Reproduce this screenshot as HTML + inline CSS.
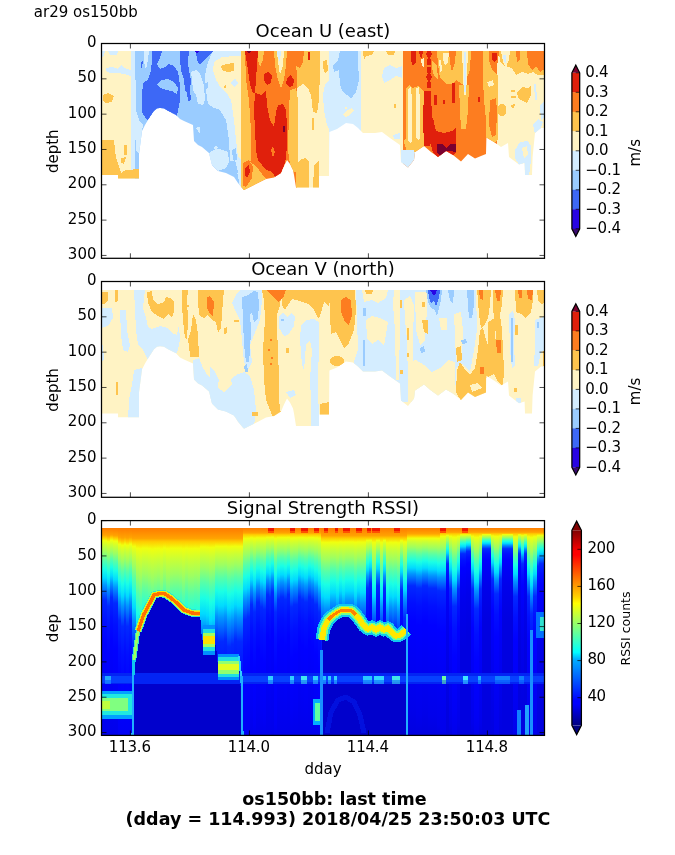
<!DOCTYPE html><html><head><meta charset="utf-8"><title>os150bb last time</title><style>html,body{margin:0;padding:0;background:#fff}svg{display:block;will-change:transform;opacity:0.999}</style></head><body><svg width="675" height="855" viewBox="0 0 675 855" font-family='"DejaVu Sans","Liberation Sans",sans-serif' fill="#000">
<rect width="675" height="855" fill="#fff"/>
<clipPath id="m1"><polygon points="101.5,51.0 101.5,175.0 118.0,175.0 118.0,178.6 139.0,178.6 139.0,154.0 142.0,131.0 145.0,125.0 148.0,120.0 154.0,111.0 157.0,108.5 160.0,108.0 164.0,108.5 168.0,111.0 176.0,115.0 180.0,119.0 184.0,121.0 193.0,125.0 194.0,141.0 198.0,145.0 202.0,147.0 209.0,153.0 212.0,165.0 218.0,171.0 226.0,173.0 234.0,177.0 238.0,183.0 243.0,189.0 244.0,190.0 250.0,187.0 258.0,183.0 266.0,179.0 274.0,177.5 281.0,173.0 284.0,166.0 287.0,160.0 290.0,164.0 293.0,170.0 294.0,175.0 296.0,187.4 319.0,187.4 319.0,176.0 329.0,176.0 329.4,132.0 337.0,129.0 346.0,123.0 353.0,124.0 358.0,128.0 363.0,133.0 375.0,133.0 382.0,132.0 390.0,138.0 400.0,145.0 401.0,162.0 408.0,167.4 414.0,160.0 415.0,152.0 424.0,146.0 431.0,152.0 438.0,157.0 446.0,151.0 453.0,155.0 461.0,161.4 468.0,154.0 475.0,158.6 481.0,156.0 486.0,154.0 486.4,137.4 494.0,142.0 501.0,147.0 508.0,143.0 509.0,157.0 519.0,164.6 524.6,163.0 525.0,175.0 532.0,175.0 532.6,157.0 535.0,133.0 541.0,128.0 544.5,128.0 544.5,51.0"/></clipPath>
<g clip-path="url(#m1)" shape-rendering="crispEdges">
<rect x="101" y="50" width="30" height="145" fill="#fff3c4"/>
<rect x="131" y="50" width="4" height="145" fill="#d4edff"/>
<rect x="135" y="50" width="108" height="145" fill="#9accff"/>
<rect x="241" y="50" width="56" height="145" fill="#fd7d20"/>
<rect x="297" y="50" width="32" height="145" fill="#fff3c4"/>
<rect x="329" y="50" width="32" height="145" fill="#d4edff"/>
<rect x="361" y="50" width="42" height="145" fill="#fff3c4"/>
<rect x="403" y="50" width="94" height="145" fill="#fd7d20"/>
<rect x="497" y="50" width="49" height="145" fill="#fff3c4"/>
<polygon fill="#fec44e" points="101.0,140.0 114.0,140.0 115.0,150.0 116.0,158.0 119.0,166.0 121.0,173.0 126.0,170.0 139.0,169.0 139.0,181.0 101.0,181.0"/>
<polygon fill="#fff3c4" points="117.0,150.0 120.0,146.0 122.0,152.0 121.0,160.0 118.0,158.0"/>
<polygon fill="#fec44e" points="103.0,95.0 108.0,93.0 114.0,96.0 112.0,102.0 106.0,103.0 103.0,101.0"/>
<polygon fill="#fec44e" points="124.0,145.0 127.0,145.0 127.0,155.0 124.0,155.0"/>
<polygon fill="#fec44e" points="121.0,158.0 126.0,157.0 124.0,164.0 121.0,163.0"/>
<polygon fill="#d4edff" points="106.0,68.0 112.0,67.0 118.0,69.0 121.0,65.0 124.0,68.0 131.0,70.0 131.0,76.0 124.0,74.0 118.0,73.0 110.0,73.0 106.0,71.0"/>
<polygon fill="#d4edff" points="108.0,51.0 118.0,51.0 117.0,55.0 110.0,55.0"/>
<polygon fill="#d4edff" points="101.0,51.0 105.0,51.0 104.0,56.0 101.0,57.0"/>
<polygon fill="#d4edff" points="131.0,51.0 135.0,51.0 135.5,80.0 136.0,110.0 139.0,120.0 143.0,125.0 142.0,131.0 141.0,150.0 139.0,154.0 136.0,150.0 134.5,120.0 133.0,90.0 131.0,60.0"/>
<polygon fill="#d4edff" points="144.0,51.0 149.0,51.0 148.0,60.0 146.0,70.0 144.0,62.0"/>
<polygon fill="#d4edff" points="213.0,51.0 243.0,51.0 243.0,192.0 240.0,192.0 238.0,175.0 230.0,160.0 229.0,140.0 226.0,120.0 220.0,110.0 214.0,108.0 208.0,104.0 206.0,90.0 205.0,75.0 208.0,62.0"/>
<polygon fill="#d4edff" points="209.0,153.0 214.0,150.0 222.0,148.0 228.0,150.0 229.0,160.0 226.0,168.0 218.0,171.0 212.0,165.0"/>
<polygon fill="#d4edff" points="196.0,128.0 201.0,126.0 204.0,131.0 200.0,134.0"/>
<polygon fill="#d4edff" points="212.0,146.0 216.0,143.0 219.0,147.0 215.0,150.0"/>
<polygon fill="#3d68f6" points="152.0,51.0 162.0,51.0 160.0,58.0 157.0,64.0 160.0,69.0 165.0,67.0 169.0,64.0 174.0,66.0 178.0,72.0 180.0,85.0 180.0,100.0 177.0,116.0 168.0,111.0 160.0,108.0 154.0,111.0 148.0,120.0 146.0,119.0 142.0,112.0 142.0,95.0 143.0,83.0 148.0,80.0 151.0,70.0 152.0,60.0"/>
<polygon fill="#9accff" points="157.0,84.0 162.0,80.0 168.0,79.0 174.0,82.0 178.0,88.0 177.0,94.0 172.0,91.0 166.0,90.0 160.0,88.0"/>
<polygon fill="#3d68f6" points="180.0,51.0 189.0,51.0 188.0,62.0 189.0,71.0 191.0,80.0 190.0,90.0 191.0,100.0 188.0,101.0 187.0,93.0 185.0,90.0 184.0,80.0 181.0,70.0 180.0,60.0"/>
<polygon fill="#3d68f6" points="196.0,51.0 213.0,51.0 209.0,56.0 204.0,60.0 200.0,65.0 197.0,60.0"/>
<polygon fill="#2804e4" points="194.0,51.0 199.0,51.0 197.0,53.0"/>
<polygon fill="#3d68f6" points="141.0,62.0 143.0,61.0 142.0,67.0 141.0,68.0"/>
<polygon fill="#d4edff" points="191.0,72.0 196.0,70.0 200.0,73.0 204.0,85.0 205.0,100.0 203.0,105.0 198.0,104.0 196.0,95.0 193.0,90.0 192.0,80.0"/>
<polygon fill="#9accff" points="204.0,84.0 208.0,82.0 208.0,88.0 205.0,90.0"/>
<polygon fill="#fff3c4" points="214.0,62.0 222.0,57.0 235.0,56.0 243.0,56.0 243.0,160.0 238.0,157.0 236.0,140.0 234.0,120.0 231.0,100.0 226.0,92.0 221.0,88.0 216.0,80.0 213.0,70.0"/>
<polygon fill="#fec44e" points="221.0,66.0 226.0,64.0 234.0,63.0 234.0,71.0 227.0,72.0 222.0,70.0"/>
<polygon fill="#d4edff" points="231.0,83.0 235.0,78.0 238.0,83.0 234.0,87.0"/>
<polygon fill="#fec44e" points="224.0,86.0 226.0,85.0 226.0,88.0 224.0,88.0"/>
<polygon fill="#9accff" points="210.0,110.0 216.0,112.0 222.0,118.0 226.0,126.0 228.0,140.0 229.0,160.0 222.0,150.0 216.0,146.0 210.0,150.0 204.0,147.0 200.0,140.0 200.0,125.0"/>
<polygon fill="#d4edff" points="209.0,153.0 214.0,151.0 222.0,150.0 228.0,152.0 229.0,162.0 226.0,168.0 218.0,171.0 212.0,165.0"/>
<polygon fill="#9accff" points="228.0,163.0 235.0,160.0 238.0,172.0 234.0,176.0 229.0,172.0"/>
<polygon fill="#9accff" points="232.0,150.0 236.0,148.0 237.0,160.0 233.0,160.0"/>
<polygon fill="#fec44e" points="241.0,51.0 245.0,51.0 246.0,80.0 249.0,100.0 251.0,130.0 251.0,160.0 249.0,165.0 248.0,175.0 252.0,178.0 258.0,183.0 243.0,192.0 241.0,192.0"/>
<polygon fill="#fec44e" points="243.0,165.0 250.0,162.0 256.0,166.0 262.0,174.0 266.0,179.0 258.0,183.0 243.0,190.0"/>
<polygon fill="#fd7d20" points="243.0,163.0 249.0,160.0 253.0,167.0 252.0,178.0 246.0,187.0 243.0,186.0"/>
<polygon fill="#e0200c" points="245.0,168.0 249.0,165.0 250.0,172.0 247.0,178.0 245.0,176.0"/>
<polygon fill="#e0200c" points="245.0,51.0 258.0,51.0 257.0,65.0 256.0,80.0 255.0,93.0 253.0,93.0 250.0,85.0 248.0,70.0 246.0,58.0"/>
<polygon fill="#e0200c" points="255.0,93.0 262.0,95.0 266.0,90.0 267.0,105.0 270.0,120.0 274.0,127.0 276.0,112.0 278.0,105.0 283.0,104.0 286.0,110.0 287.0,125.0 287.0,145.0 286.0,158.0 284.0,166.0 281.0,173.0 276.0,178.0 272.0,172.0 266.0,170.0 262.0,165.0 258.0,160.0 256.0,150.0 255.0,130.0 254.0,110.0"/>
<polygon fill="#fd7d20" points="271.0,150.0 273.0,146.0 275.0,152.0 273.0,158.0"/>
<polygon fill="#e0200c" points="264.0,74.0 268.0,72.0 272.0,76.0 271.0,83.0 267.0,85.0 264.0,80.0"/>
<polygon fill="#e0200c" points="287.0,78.0 291.0,75.0 294.0,80.0 293.0,86.0 289.0,87.0 286.0,84.0"/>
<polygon fill="#7a0030" points="283.0,126.0 285.0,126.0 285.0,132.0 283.0,132.0"/>
<polygon fill="#7a0030" points="247.0,51.0 251.0,51.0 250.0,53.0 248.0,53.0"/>
<polygon fill="#fec44e" points="258.0,51.0 264.0,51.0 263.0,60.0 260.0,67.0 258.0,60.0"/>
<polygon fill="#fec44e" points="274.0,51.0 287.0,51.0 286.0,65.0 284.0,80.0 281.0,88.0 278.0,80.0 275.0,65.0"/>
<polygon fill="#fff3c4" points="277.0,51.0 284.0,51.0 283.0,65.0 280.0,75.0 278.0,62.0"/>
<polygon fill="#d4edff" points="277.0,51.0 281.0,51.0 280.0,62.0 278.0,58.0"/>
<polygon fill="#fec44e" points="290.0,90.0 296.0,88.0 298.0,100.0 298.0,172.0 293.0,172.0 290.0,164.0 288.0,150.0 289.0,110.0"/>
<polygon fill="#fec44e" points="296.0,51.0 320.0,51.0 320.0,70.0 319.0,100.0 317.0,113.0 313.0,112.0 311.0,95.0 308.0,88.0 303.0,84.0 297.0,88.0"/>
<polygon fill="#fd7d20" points="294.0,51.0 304.0,51.0 303.0,62.0 300.0,68.0 296.0,66.0"/>
<polygon fill="#e0200c" points="308.0,52.0 310.0,52.0 310.0,60.0 308.0,60.0"/>
<polygon fill="#fff3c4" points="320.0,51.0 329.0,51.0 329.0,80.0 325.0,78.0 322.0,70.0"/>
<polygon fill="#fec44e" points="323.0,61.0 327.0,60.0 328.0,70.0 325.0,73.0 323.0,68.0"/>
<polygon fill="#fec44e" points="296.0,165.0 300.0,160.0 305.0,158.0 309.0,162.0 309.0,189.0 296.0,189.0"/>
<polygon fill="#fec44e" points="313.0,189.0 314.0,165.0 319.0,160.0 319.0,189.0"/>
<polygon fill="#fec44e" points="312.0,118.0 314.0,118.0 314.0,130.0 312.0,130.0"/>
<polygon fill="#9accff" points="340.0,51.0 358.0,51.0 358.0,62.0 359.0,80.0 356.0,92.0 351.0,99.0 347.0,95.0 343.0,92.0 340.0,85.0 339.0,70.0 334.0,72.0 333.0,65.0 338.0,60.0"/>
<polygon fill="#fff3c4" points="343.0,114.0 346.0,111.0 352.0,108.0 354.0,111.0 348.0,116.0 345.0,117.0"/>
<polygon fill="#fff3c4" points="345.0,107.0 347.0,107.0 347.0,109.0 345.0,109.0"/>
<polygon fill="#d4edff" points="330.0,80.0 325.0,84.0 323.0,95.0 324.0,110.0 327.0,125.0 330.0,131.0"/>
<polygon fill="#d4edff" points="384.0,68.0 390.0,65.0 396.0,68.0 402.0,66.0 402.0,78.0 396.0,76.0 390.0,80.0 384.0,83.0 382.0,76.0"/>
<polygon fill="#fec44e" points="363.0,51.0 374.0,51.0 372.0,55.0 366.0,56.0 364.0,60.0"/>
<polygon fill="#fec44e" points="386.0,51.0 395.0,51.0 394.0,55.0 388.0,55.0"/>
<polygon fill="#d4edff" points="393.0,135.0 400.0,133.0 400.0,139.0 394.0,139.0"/>
<polygon fill="#d4edff" points="401.0,150.0 415.0,150.0 415.0,170.0 401.0,170.0"/>
<polygon fill="#fec44e" points="394.0,104.0 396.0,104.0 396.0,108.0 394.0,108.0"/>
<polygon fill="#fec44e" points="406.0,88.0 409.0,85.0 413.0,88.0 418.0,86.0 424.0,92.0 424.0,150.0 415.0,153.0 414.0,150.0 406.0,150.0"/>
<polygon fill="#fff3c4" points="408.0,89.0 411.0,87.0 412.0,100.0 412.0,141.0 410.0,143.0 408.0,140.0"/>
<polygon fill="#fff3c4" points="415.6,89.0 419.0,87.0 420.0,100.0 420.0,138.0 418.0,140.0 416.0,138.0"/>
<polygon fill="#fec44e" points="404.0,140.0 408.0,138.0 409.0,144.0 405.0,147.0"/>
<polygon fill="#e0200c" points="411.0,51.0 416.0,51.0 416.0,62.0 413.0,66.0 411.0,60.0"/>
<polygon fill="#e0200c" points="419.0,51.0 423.0,51.0 422.0,58.0 420.0,57.0"/>
<polygon fill="#fff3c4" points="421.0,59.0 424.0,58.0 424.0,67.0 422.0,66.0"/>
<polygon fill="#e0200c" points="424.0,91.0 431.0,91.0 432.0,120.0 431.0,135.0 430.0,146.0 424.0,146.0 423.0,120.0"/>
<ellipse cx="429" cy="54" rx="2.6" ry="3.8" fill="#e0200c"/>
<ellipse cx="429" cy="62" rx="2.4" ry="3.5999999999999996" fill="#e0200c"/>
<ellipse cx="429" cy="70" rx="2.2" ry="3.4000000000000004" fill="#e0200c"/>
<ellipse cx="429" cy="77" rx="2.6" ry="3.8" fill="#e0200c"/>
<ellipse cx="429" cy="85" rx="2.4" ry="3.5999999999999996" fill="#e0200c"/>
<polygon fill="#fec44e" points="437.0,51.0 471.0,51.0 470.0,70.0 466.0,80.0 462.0,84.0 456.0,80.0 452.0,84.0 446.0,84.0 440.0,78.0 438.0,65.0"/>
<polygon fill="#fd7d20" points="449.0,51.0 456.0,51.0 455.0,62.0 452.0,72.0 450.0,62.0"/>
<polygon fill="#fff3c4" points="443.0,53.0 449.0,53.0 448.0,62.0 445.0,65.0 443.0,60.0"/>
<polygon fill="#fff3c4" points="439.0,60.0 441.0,60.0 442.0,70.0 440.0,72.0"/>
<polygon fill="#fec44e" points="459.0,85.0 469.0,85.0 468.0,110.0 466.0,129.0 461.0,129.0 460.0,110.0"/>
<polygon fill="#fff3c4" points="462.0,51.0 468.0,51.0 467.0,75.0 466.0,95.0 464.0,95.0 463.0,75.0"/>
<polygon fill="#d4edff" points="464.0,52.0 466.0,52.0 466.0,92.0 464.0,92.0"/>
<polygon fill="#fec44e" points="432.0,60.0 437.0,66.0 438.0,80.0 434.0,76.0 432.0,68.0"/>
<polygon fill="#e0200c" points="425.0,121.0 433.0,118.0 436.0,131.0 444.0,133.0 452.0,131.0 456.0,128.0 456.0,152.0 453.0,156.0 446.0,152.0 439.0,158.0 433.0,153.0 431.0,145.0 426.0,140.0"/>
<polygon fill="#7a0030" points="437.0,144.0 443.0,144.0 446.0,148.0 450.0,144.0 456.0,144.0 456.0,152.0 450.0,151.0 446.0,151.0 441.0,157.0 437.0,152.0"/>
<polygon fill="#e0200c" points="452.0,83.0 455.0,83.0 455.0,103.0 452.0,103.0"/>
<polygon fill="#e0200c" points="434.0,95.0 437.0,95.0 437.0,105.0 434.0,105.0"/>
<polygon fill="#e0200c" points="443.0,100.0 445.0,100.0 445.0,104.0 443.0,104.0"/>
<polygon fill="#fec44e" points="483.0,51.0 489.0,51.0 489.0,60.0 492.0,70.0 498.0,75.0 498.0,140.0 494.0,143.0 486.4,138.0 486.0,120.0 484.0,100.0 483.0,80.0"/>
<polygon fill="#fd7d20" points="489.0,51.0 499.0,51.0 498.0,62.0 495.0,67.0 491.0,64.0"/>
<polygon fill="#e0200c" points="492.0,53.0 497.0,53.0 497.0,60.0 494.0,62.0 492.0,59.0"/>
<polygon fill="#fd7d20" points="490.0,100.0 496.0,98.0 497.0,112.0 496.0,135.0 492.0,137.0 489.0,125.0"/>
<polygon fill="#fff3c4" points="487.0,82.0 493.0,80.0 494.0,85.0 489.0,87.0"/>
<polygon fill="#e0200c" points="478.0,97.0 480.0,97.0 480.0,102.0 478.0,102.0"/>
<polygon fill="#fec44e" points="499.0,51.0 546.0,51.0 546.0,75.0 538.0,75.0 533.0,72.0 528.0,74.0 522.0,72.0 516.0,75.0 512.0,68.0 505.0,66.0 500.0,62.0"/>
<polygon fill="#fd7d20" points="527.0,51.0 546.0,51.0 546.0,68.0 540.0,72.0 536.0,66.0 532.0,70.0 528.0,64.0"/>
<polygon fill="#fff3c4" points="501.0,51.0 510.0,51.0 509.0,60.0 506.0,67.0 503.0,62.0"/>
<polygon fill="#d4edff" points="503.0,55.0 506.0,55.0 506.0,63.0 504.0,62.0"/>
<polygon fill="#fd7d20" points="516.0,51.0 520.0,51.0 520.0,60.0 517.0,62.0"/>
<polygon fill="#fec44e" points="517.0,92.0 522.0,87.0 528.0,88.0 531.0,85.0 531.0,95.0 527.0,103.0 521.0,100.0 518.0,98.0"/>
<polygon fill="#fec44e" points="511.0,90.0 515.0,90.0 515.0,92.0 511.0,92.0"/>
<polygon fill="#fec44e" points="511.0,96.0 516.0,96.0 516.0,98.0 511.0,98.0"/>
<polygon fill="#fec44e" points="511.0,105.0 515.0,104.0 514.0,108.0 512.0,108.0"/>
<ellipse cx="502" cy="110" rx="4.5" ry="6" fill="#fec44e"/>
<polygon fill="#d4edff" points="533.0,125.0 538.0,119.0 543.0,122.0 541.0,128.0 535.0,134.0"/>
<polygon fill="#d4edff" points="515.0,150.0 520.0,142.0 528.0,141.0 531.0,146.0 531.0,160.0 529.0,176.0 525.0,176.0 524.0,163.0 519.0,165.0 515.0,158.0"/>
<polygon fill="#fff3c4" points="522.0,148.0 527.0,146.0 528.0,155.0 524.0,158.0"/>
<polygon fill="#d4edff" points="534.0,84.0 536.0,84.0 537.0,100.0 535.0,100.0"/>
<polygon fill="#d4edff" points="540.0,105.0 546.0,100.0 546.0,115.0 541.0,120.0"/>
</g>
<clipPath id="m2"><polygon points="101.5,290.0 101.5,413.6 118.0,413.6 118.0,417.2 139.0,417.2 139.0,392.5 142.0,369.4 145.0,363.4 148.0,358.4 154.0,349.3 157.0,346.8 160.0,346.3 164.0,346.8 168.0,349.3 176.0,353.3 180.0,357.4 184.0,359.4 193.0,363.4 194.0,379.5 198.0,383.5 202.0,385.5 209.0,391.5 212.0,403.6 218.0,409.6 226.0,411.6 234.0,415.6 238.0,421.7 243.0,427.7 244.0,428.7 250.0,425.7 258.0,421.7 266.0,417.6 274.0,416.1 281.0,411.6 284.0,404.6 287.0,398.5 290.0,402.6 293.0,408.6 294.0,413.6 296.0,426.1 319.0,426.1 319.0,414.6 329.0,414.6 329.4,370.4 337.0,367.4 346.0,361.4 353.0,362.4 358.0,366.4 363.0,371.4 375.0,371.4 382.0,370.4 390.0,376.4 400.0,383.5 401.0,400.6 408.0,406.0 414.0,398.5 415.0,390.5 424.0,384.5 431.0,390.5 438.0,395.5 446.0,389.5 453.0,393.5 461.0,400.0 468.0,392.5 475.0,397.1 481.0,394.5 486.0,392.5 486.4,375.8 494.0,380.5 501.0,385.5 508.0,381.5 509.0,395.5 519.0,403.2 524.6,401.6 525.0,413.6 532.0,413.6 532.6,395.5 535.0,371.4 541.0,366.4 544.5,366.4 544.5,290.0"/></clipPath>
<g clip-path="url(#m2)" shape-rendering="crispEdges">
<rect x="101" y="289" width="445" height="150" fill="#fff3c4"/>
<polygon fill="#d4edff" points="101.0,308.0 112.0,308.0 113.0,318.0 108.0,326.0 101.0,328.0"/>
<polygon fill="#d4edff" points="120.0,310.0 126.0,310.0 127.0,330.0 130.0,345.0 128.0,352.0 123.0,350.0 121.0,335.0"/>
<polygon fill="#d4edff" points="134.0,290.0 145.0,290.0 144.0,298.0 143.0,308.0 146.0,318.0 148.0,327.0 152.0,329.0 160.0,326.0 168.0,328.0 172.0,333.0 177.0,335.0 179.0,325.0 180.0,340.0 178.0,350.0 176.0,354.0 168.0,351.0 160.0,348.0 154.0,351.0 148.0,360.0 143.0,350.0 138.0,345.0 136.0,330.0 135.0,310.0"/>
<polygon fill="#d4edff" points="134.0,370.0 142.0,368.0 142.0,395.0 139.0,421.0 128.0,421.0 129.0,400.0 132.0,385.0"/>
<polygon fill="#d4edff" points="101.0,345.0 103.0,345.0 104.0,360.0 101.0,362.0"/>
<polygon fill="#d4edff" points="193.0,360.0 199.0,358.0 203.0,368.0 208.0,376.0 214.0,380.0 218.0,390.0 218.0,396.0 226.0,394.0 235.0,390.0 235.0,422.0 190.0,422.0"/>
<polygon fill="#fec44e" points="101.0,292.0 108.0,292.0 108.0,300.0 105.0,304.0 101.0,304.0"/>
<polygon fill="#fec44e" points="115.0,290.0 118.0,290.0 118.0,301.0 115.0,302.0"/>
<polygon fill="#fec44e" points="147.0,292.0 152.0,291.0 153.0,300.0 158.0,304.0 164.0,302.0 166.0,297.0 170.0,298.0 174.0,302.0 174.0,312.0 172.0,318.0 168.0,314.0 164.0,319.0 158.0,316.0 152.0,312.0 148.0,303.0"/>
<polygon fill="#fec44e" points="182.0,290.0 188.0,290.0 187.0,300.0 188.0,320.0 187.0,340.0 185.0,338.0 183.0,320.0 182.0,305.0"/>
<polygon fill="#fec44e" points="184.0,305.0 189.0,305.0 189.0,307.0 184.0,307.0"/>
<polygon fill="#fec44e" points="193.0,314.0 196.0,320.0 198.0,335.0 199.0,357.0 190.0,357.0 189.0,345.0 188.0,340.0 191.0,330.0"/>
<polygon fill="#fec44e" points="198.0,290.0 224.0,290.0 223.0,300.0 222.0,315.0 221.0,328.0 218.0,333.0 216.0,322.0 212.0,320.0 208.0,315.0 204.0,318.0 199.0,315.0 198.0,300.0"/>
<polygon fill="#fd7d20" points="207.0,297.0 210.0,296.0 214.0,302.0 213.0,316.0 210.0,314.0 207.0,308.0"/>
<polygon fill="#fec44e" points="116.0,382.0 117.6,382.0 117.6,395.0 116.0,395.0"/>
<polygon fill="#fec44e" points="224.0,328.0 227.0,327.0 227.0,333.0 224.0,334.0"/>
<polygon fill="#d4edff" points="232.0,303.0 236.0,295.0 240.0,290.0 262.0,290.0 262.0,300.0 260.0,320.0 256.0,330.0 250.0,345.0 252.0,362.0 248.0,370.0 244.0,362.0 242.0,340.0 240.0,320.0 236.0,312.0"/>
<polygon fill="#9accff" points="242.0,297.0 248.0,295.0 254.0,291.0 258.0,292.0 259.0,305.0 258.0,318.0 254.0,322.0 252.0,312.0 250.0,314.0 251.0,330.0 250.0,350.0 249.0,362.0 246.0,362.0 244.0,345.0 243.0,320.0"/>
<polygon fill="#d4edff" points="210.0,366.0 215.0,372.0 221.0,384.0 226.0,385.0 232.0,378.0 238.0,374.0 244.0,372.0 250.0,376.0 254.0,390.0 256.0,410.0 254.0,426.0 248.0,430.0 210.0,430.0"/>
<polygon fill="#fff3c4" points="219.0,376.0 230.0,376.0 232.0,384.0 224.0,392.0 218.0,388.0"/>
<polygon fill="#9accff" points="244.0,366.0 247.0,364.0 248.0,372.0 245.0,372.0"/>
<polygon fill="#fec44e" points="262.0,290.0 282.0,290.0 280.0,305.0 277.0,315.0 277.0,330.0 278.0,350.0 279.0,380.0 279.0,400.0 281.0,415.0 279.0,422.0 274.0,420.0 270.0,410.0 266.0,400.0 264.0,380.0 263.0,350.0 265.0,320.0 264.0,300.0"/>
<circle cx="271" cy="340" r="1.3" fill="#fd7d20"/>
<circle cx="269" cy="350" r="1.3" fill="#fd7d20"/>
<circle cx="272" cy="358" r="1.3" fill="#fd7d20"/>
<circle cx="271" cy="364" r="1.3" fill="#fd7d20"/>
<polygon fill="#fec44e" points="282.0,290.0 329.0,290.0 329.0,306.0 324.0,302.0 320.0,316.0 318.0,318.0 314.0,310.0 308.0,304.0 300.0,301.0 292.0,299.0 288.0,305.0 285.0,310.0 282.0,305.0"/>
<polygon fill="#fec44e" points="329.0,290.0 355.0,290.0 356.0,310.0 354.0,330.0 348.0,345.0 344.0,348.0 340.0,340.0 336.0,332.0 331.0,334.0 330.0,315.0"/>
<polygon fill="#fd7d20" points="266.0,290.0 286.0,290.0 284.0,296.0 278.0,302.0 274.0,298.0 270.0,294.0"/>
<polygon fill="#fd7d20" points="341.0,300.0 346.0,297.0 351.0,300.0 352.0,315.0 349.0,325.0 345.0,322.0 341.0,312.0"/>
<ellipse cx="337" cy="361" rx="7.5" ry="5" fill="#fec44e"/>
<polygon fill="#fec44e" points="320.0,404.0 329.0,402.0 329.0,418.0 320.0,418.0"/>
<polygon fill="#d4edff" points="279.0,316.0 283.0,313.0 287.0,317.0 291.0,313.0 295.0,317.0 294.0,326.0 288.0,335.0 284.0,336.0 279.0,328.0"/>
<polygon fill="#9accff" points="281.0,319.0 284.0,319.0 284.0,321.0 281.0,321.0"/>
<polygon fill="#d4edff" points="301.0,325.0 306.0,320.0 314.0,319.0 319.0,322.0 319.0,345.0 318.0,380.0 319.0,426.0 311.0,426.0 311.0,400.0 310.0,380.0 312.0,350.0 310.0,340.0 306.0,345.0 304.0,370.0 302.0,365.0 300.0,340.0"/>
<polygon fill="#d4edff" points="286.0,392.0 294.0,390.0 296.0,395.0 290.0,398.0"/>
<polygon fill="#fec44e" points="286.0,348.0 289.0,348.0 289.0,353.0 286.0,353.0"/>
<polygon fill="#fec44e" points="252.0,412.0 258.0,412.0 258.0,416.0 252.0,416.0"/>
<polygon fill="#fec44e" points="234.0,320.0 239.0,320.0 239.0,322.0 234.0,322.0"/>
<polygon fill="#d4edff" points="356.0,290.0 476.0,290.0 477.0,330.0 474.0,350.0 470.0,372.0 462.0,364.0 456.0,368.0 455.0,402.0 352.0,402.0 352.0,368.0 358.0,350.0 357.0,320.0"/>
<polygon fill="#fff3c4" points="366.0,320.0 372.0,316.0 380.0,318.0 388.0,322.0 386.0,334.0 384.0,346.0 378.0,340.0 372.0,344.0 367.0,338.0"/>
<polygon fill="#fff3c4" points="362.0,290.0 388.0,290.0 386.0,298.0 378.0,303.0 372.0,300.0 364.0,302.0"/>
<polygon fill="#fec44e" points="365.0,290.0 373.0,290.0 372.0,294.0 366.0,294.0"/>
<polygon fill="#fff3c4" points="394.0,290.0 400.0,290.0 400.0,320.0 399.0,380.0 396.0,380.0 395.0,330.0 393.0,305.0"/>
<polygon fill="#fff3c4" points="404.0,300.0 410.0,296.0 414.0,305.0 413.0,340.0 414.0,380.0 408.0,380.0 407.0,340.0 405.0,320.0"/>
<polygon fill="#fec44e" points="400.0,300.0 402.0,300.0 402.0,308.0 400.0,308.0"/>
<polygon fill="#fec44e" points="407.0,328.0 409.0,328.0 409.0,340.0 407.0,340.0"/>
<polygon fill="#fec44e" points="407.0,353.0 409.0,353.0 409.0,357.0 407.0,357.0"/>
<polygon fill="#fec44e" points="400.0,370.0 403.0,370.0 403.0,374.0 400.0,374.0"/>
<polygon fill="#fff3c4" points="415.0,292.0 427.0,292.0 427.0,310.0 425.0,340.0 420.0,345.0 416.0,330.0"/>
<polygon fill="#fec44e" points="422.0,320.0 428.0,320.0 428.0,334.0 424.0,332.0"/>
<polygon fill="#fec44e" points="422.0,302.0 425.0,302.0 425.0,307.0 422.0,307.0"/>
<polygon fill="#fff3c4" points="408.0,362.0 416.0,360.0 424.0,365.0 432.0,372.0 440.0,368.0 448.0,360.0 455.0,362.0 455.0,402.0 408.0,402.0"/>
<polygon fill="#fff3c4" points="439.0,318.0 447.0,318.0 447.0,330.0 441.0,330.0"/>
<polygon fill="#fff3c4" points="454.0,314.0 461.0,312.0 463.0,330.0 462.0,360.0 456.0,360.0 455.0,335.0"/>
<polygon fill="#fec44e" points="456.0,348.0 461.0,346.0 462.0,360.0 457.0,362.0"/>
<polygon fill="#9accff" points="426.0,290.0 442.0,290.0 441.0,300.0 437.0,316.0 435.0,310.0 431.0,308.0 428.0,302.0"/>
<polygon fill="#3d68f6" points="428.0,290.0 440.0,290.0 439.0,298.0 436.0,306.0 434.0,300.0 431.0,304.0 429.0,297.0"/>
<polygon fill="#2804e4" points="430.0,290.0 437.0,290.0 436.0,293.0 434.0,296.0 432.0,293.0"/>
<polygon fill="#9accff" points="448.0,290.0 454.0,290.0 453.0,304.0 450.0,300.0"/>
<polygon fill="#9accff" points="467.0,290.0 474.0,290.0 474.0,305.0 472.0,318.0 469.0,318.0 468.0,305.0"/>
<polygon fill="#9accff" points="363.0,340.0 365.0,340.0 365.0,366.0 363.0,366.0"/>
<polygon fill="#9accff" points="363.0,308.0 366.0,308.0 366.0,316.0 363.0,316.0"/>
<polygon fill="#9accff" points="420.0,348.0 424.0,346.0 425.0,352.0 421.0,353.0"/>
<polygon fill="#9accff" points="461.0,340.0 466.0,339.0 467.0,343.0 462.0,344.0"/>
<polygon fill="#fec44e" points="477.0,290.0 491.0,290.0 490.0,305.0 488.0,318.0 484.0,326.0 481.0,328.0 479.0,315.0 478.0,300.0"/>
<polygon fill="#fec44e" points="493.0,290.0 503.0,290.0 502.0,305.0 500.0,315.0 502.0,330.0 503.0,350.0 504.0,370.0 503.0,386.0 498.0,382.0 494.0,374.0 494.0,350.0 496.0,335.0 494.0,320.0 493.0,305.0"/>
<polygon fill="#fec44e" points="480.0,330.0 483.0,328.0 486.0,340.0 489.0,348.0 494.0,355.0 494.0,374.0 486.4,378.0 486.0,394.0 475.0,399.0 468.0,394.0 461.0,401.0 456.0,392.0 457.0,370.0 460.0,362.0 464.0,368.0 470.0,375.0 475.0,368.0 478.0,350.0"/>
<polygon fill="#fff3c4" points="470.0,385.0 478.0,383.0 482.0,388.0 472.0,392.0"/>
<polygon fill="#fec44e" points="488.0,322.0 495.0,318.0 496.0,360.0 494.0,372.0 488.0,350.0"/>
<polygon fill="#fd7d20" points="479.0,290.0 483.0,290.0 483.0,300.0 480.0,299.0"/>
<polygon fill="#fd7d20" points="495.0,290.0 501.0,290.0 500.0,301.0 497.0,301.0"/>
<polygon fill="#fd7d20" points="496.0,340.0 501.0,340.0 501.0,353.0 497.0,353.0"/>
<polygon fill="#fd7d20" points="480.0,367.0 484.0,367.0 484.0,374.0 480.0,374.0"/>
<ellipse cx="459.5" cy="356" rx="2.3" ry="4" fill="#fec44e"/>
<polygon fill="#fec44e" points="515.0,290.0 533.0,290.0 533.0,300.0 531.0,312.0 526.0,318.0 521.0,314.0 516.0,312.0"/>
<polygon fill="#fd7d20" points="518.0,290.0 522.0,290.0 522.0,298.0 519.0,298.0"/>
<polygon fill="#fd7d20" points="527.0,290.0 533.0,290.0 532.0,300.0 528.0,299.0"/>
<polygon fill="#fec44e" points="537.0,290.0 546.0,290.0 546.0,303.0 541.0,304.0 538.0,300.0"/>
<polygon fill="#fec44e" points="543.0,350.0 546.0,350.0 546.0,366.0 543.0,366.0"/>
<polygon fill="#d4edff" points="509.0,315.0 513.0,310.0 515.0,320.0 514.0,345.0 515.0,365.0 512.0,368.0 510.0,350.0"/>
<polygon fill="#9accff" points="511.0,318.0 513.0,318.0 513.0,362.0 511.0,362.0"/>
<polygon fill="#d4edff" points="535.0,320.0 546.0,316.0 546.0,350.0 541.0,352.0 538.0,366.0 534.0,366.0 535.0,345.0"/>
<polygon fill="#9accff" points="537.0,322.0 539.0,322.0 539.0,328.0 537.0,328.0"/>
<polygon fill="#d4edff" points="516.0,398.0 521.0,398.0 521.0,404.0 516.0,404.0"/>
<polygon fill="#fec44e" points="514.0,388.0 517.0,388.0 517.0,392.0 514.0,392.0"/>
<polygon fill="#fec44e" points="515.0,325.0 518.0,325.0 518.0,335.0 515.0,335.0"/>
</g>
<defs><linearGradient id="g0" gradientUnits="userSpaceOnUse" x1="0" y1="527.8" x2="0" y2="735.4"><stop offset="0.000" stop-color="#ff7a00"/><stop offset="0.036" stop-color="#ffa300"/><stop offset="0.048" stop-color="#ffcc00"/><stop offset="0.062" stop-color="#f0ff0f"/><stop offset="0.084" stop-color="#ccff33"/><stop offset="0.117" stop-color="#9eff61"/><stop offset="0.157" stop-color="#57ffa8"/><stop offset="0.199" stop-color="#1affe5"/><stop offset="0.241" stop-color="#00dbff"/><stop offset="0.277" stop-color="#0094ff"/><stop offset="0.349" stop-color="#0029ff"/><stop offset="0.452" stop-color="#000fff"/><stop offset="0.572" stop-color="#0000ff"/><stop offset="0.783" stop-color="#0000f5"/><stop offset="1" stop-color="#0000eb"/></linearGradient><linearGradient id="g1" gradientUnits="userSpaceOnUse" x1="0" y1="527.8" x2="0" y2="735.4"><stop offset="0.000" stop-color="#ff7a00"/><stop offset="0.039" stop-color="#ffa300"/><stop offset="0.052" stop-color="#ffcc00"/><stop offset="0.067" stop-color="#f0ff0f"/><stop offset="0.091" stop-color="#ccff33"/><stop offset="0.127" stop-color="#9eff61"/><stop offset="0.169" stop-color="#57ffa8"/><stop offset="0.215" stop-color="#1affe5"/><stop offset="0.260" stop-color="#00dbff"/><stop offset="0.299" stop-color="#0094ff"/><stop offset="0.377" stop-color="#0029ff"/><stop offset="0.488" stop-color="#000fff"/><stop offset="0.618" stop-color="#0000ff"/><stop offset="0.845" stop-color="#0000f5"/><stop offset="1" stop-color="#0000eb"/></linearGradient><linearGradient id="g2" gradientUnits="userSpaceOnUse" x1="0" y1="527.8" x2="0" y2="735.4"><stop offset="0.000" stop-color="#ff7a00"/><stop offset="0.035" stop-color="#ffa300"/><stop offset="0.046" stop-color="#ffcc00"/><stop offset="0.060" stop-color="#f0ff0f"/><stop offset="0.081" stop-color="#ccff33"/><stop offset="0.113" stop-color="#9eff61"/><stop offset="0.150" stop-color="#57ffa8"/><stop offset="0.191" stop-color="#1affe5"/><stop offset="0.231" stop-color="#00dbff"/><stop offset="0.266" stop-color="#0094ff"/><stop offset="0.335" stop-color="#0029ff"/><stop offset="0.434" stop-color="#000fff"/><stop offset="0.549" stop-color="#0000ff"/><stop offset="0.751" stop-color="#0000f5"/><stop offset="1" stop-color="#0000eb"/></linearGradient><linearGradient id="g3" gradientUnits="userSpaceOnUse" x1="0" y1="527.8" x2="0" y2="735.4"><stop offset="0.000" stop-color="#ff7a00"/><stop offset="0.038" stop-color="#ffa300"/><stop offset="0.050" stop-color="#ffcc00"/><stop offset="0.064" stop-color="#f0ff0f"/><stop offset="0.088" stop-color="#ccff33"/><stop offset="0.122" stop-color="#9eff61"/><stop offset="0.163" stop-color="#57ffa8"/><stop offset="0.207" stop-color="#1affe5"/><stop offset="0.250" stop-color="#00dbff"/><stop offset="0.288" stop-color="#0094ff"/><stop offset="0.363" stop-color="#0029ff"/><stop offset="0.470" stop-color="#000fff"/><stop offset="0.595" stop-color="#0000ff"/><stop offset="0.814" stop-color="#0000f5"/><stop offset="1" stop-color="#0000eb"/></linearGradient><linearGradient id="g4" gradientUnits="userSpaceOnUse" x1="0" y1="527.8" x2="0" y2="735.4"><stop offset="0.000" stop-color="#ff7a00"/><stop offset="0.046" stop-color="#ffa300"/><stop offset="0.062" stop-color="#ffcc00"/><stop offset="0.079" stop-color="#f0ff0f"/><stop offset="0.108" stop-color="#ccff33"/><stop offset="0.150" stop-color="#9eff61"/><stop offset="0.200" stop-color="#57ffa8"/><stop offset="0.254" stop-color="#1affe5"/><stop offset="0.308" stop-color="#00dbff"/><stop offset="0.355" stop-color="#0094ff"/><stop offset="0.447" stop-color="#0029ff"/><stop offset="0.578" stop-color="#000fff"/><stop offset="0.732" stop-color="#0000ff"/><stop offset="1" stop-color="#0000f5"/></linearGradient><linearGradient id="g5" gradientUnits="userSpaceOnUse" x1="0" y1="527.8" x2="0" y2="735.4"><stop offset="0.000" stop-color="#ff7a00"/><stop offset="0.049" stop-color="#ffa300"/><stop offset="0.066" stop-color="#ffcc00"/><stop offset="0.084" stop-color="#f0ff0f"/><stop offset="0.115" stop-color="#ccff33"/><stop offset="0.160" stop-color="#9eff61"/><stop offset="0.213" stop-color="#57ffa8"/><stop offset="0.270" stop-color="#1affe5"/><stop offset="0.328" stop-color="#00dbff"/><stop offset="0.377" stop-color="#0094ff"/><stop offset="0.475" stop-color="#0029ff"/><stop offset="0.614" stop-color="#000fff"/><stop offset="0.778" stop-color="#0000ff"/><stop offset="1" stop-color="#0000f5"/></linearGradient><linearGradient id="g6" gradientUnits="userSpaceOnUse" x1="0" y1="527.8" x2="0" y2="735.4"><stop offset="0.000" stop-color="#ff7a00"/><stop offset="0.051" stop-color="#ffa300"/><stop offset="0.067" stop-color="#ffcc00"/><stop offset="0.090" stop-color="#f0ff0f"/><stop offset="0.127" stop-color="#ccff33"/><stop offset="0.181" stop-color="#9eff61"/><stop offset="0.245" stop-color="#57ffa8"/><stop offset="0.314" stop-color="#1affe5"/><stop offset="0.383" stop-color="#00dbff"/><stop offset="0.443" stop-color="#0094ff"/><stop offset="0.561" stop-color="#0029ff"/><stop offset="0.729" stop-color="#000fff"/><stop offset="0.927" stop-color="#0000ff"/><stop offset="1" stop-color="#0000f5"/></linearGradient><linearGradient id="g7" gradientUnits="userSpaceOnUse" x1="0" y1="527.8" x2="0" y2="735.4"><stop offset="0.000" stop-color="#ff7a00"/><stop offset="0.051" stop-color="#ffa300"/><stop offset="0.067" stop-color="#ffcc00"/><stop offset="0.099" stop-color="#f0ff0f"/><stop offset="0.150" stop-color="#ccff33"/><stop offset="0.225" stop-color="#9eff61"/><stop offset="0.315" stop-color="#57ffa8"/><stop offset="0.411" stop-color="#1affe5"/><stop offset="0.507" stop-color="#00dbff"/><stop offset="0.589" stop-color="#0094ff"/><stop offset="0.754" stop-color="#0029ff"/><stop offset="0.987" stop-color="#000fff"/><stop offset="1" stop-color="#0000ff"/></linearGradient><linearGradient id="g8" gradientUnits="userSpaceOnUse" x1="0" y1="527.8" x2="0" y2="735.4"><stop offset="0.000" stop-color="#ff7a00"/><stop offset="0.051" stop-color="#ffa300"/><stop offset="0.067" stop-color="#ffcc00"/><stop offset="0.101" stop-color="#f0ff0f"/><stop offset="0.156" stop-color="#ccff33"/><stop offset="0.236" stop-color="#9eff61"/><stop offset="0.332" stop-color="#57ffa8"/><stop offset="0.435" stop-color="#1affe5"/><stop offset="0.538" stop-color="#00dbff"/><stop offset="0.626" stop-color="#0094ff"/><stop offset="0.802" stop-color="#0029ff"/><stop offset="1" stop-color="#000fff"/></linearGradient><linearGradient id="g9" gradientUnits="userSpaceOnUse" x1="0" y1="527.8" x2="0" y2="735.4"><stop offset="0.000" stop-color="#ff7a00"/><stop offset="0.051" stop-color="#ffa300"/><stop offset="0.067" stop-color="#ffcc00"/><stop offset="0.098" stop-color="#f0ff0f"/><stop offset="0.147" stop-color="#ccff33"/><stop offset="0.220" stop-color="#9eff61"/><stop offset="0.306" stop-color="#57ffa8"/><stop offset="0.399" stop-color="#1affe5"/><stop offset="0.491" stop-color="#00dbff"/><stop offset="0.571" stop-color="#0094ff"/><stop offset="0.730" stop-color="#0029ff"/><stop offset="0.955" stop-color="#000fff"/><stop offset="1" stop-color="#0000ff"/></linearGradient><linearGradient id="g10" gradientUnits="userSpaceOnUse" x1="0" y1="527.8" x2="0" y2="735.4"><stop offset="0.000" stop-color="#ff7a00"/><stop offset="0.051" stop-color="#ffa300"/><stop offset="0.067" stop-color="#ffcc00"/><stop offset="0.098" stop-color="#f0ff0f"/><stop offset="0.148" stop-color="#ccff33"/><stop offset="0.223" stop-color="#9eff61"/><stop offset="0.310" stop-color="#57ffa8"/><stop offset="0.405" stop-color="#1affe5"/><stop offset="0.499" stop-color="#00dbff"/><stop offset="0.580" stop-color="#0094ff"/><stop offset="0.742" stop-color="#0029ff"/><stop offset="0.971" stop-color="#000fff"/><stop offset="1" stop-color="#0000ff"/></linearGradient><linearGradient id="g11" gradientUnits="userSpaceOnUse" x1="0" y1="527.8" x2="0" y2="735.4"><stop offset="0.000" stop-color="#ff7a00"/><stop offset="0.051" stop-color="#ffa300"/><stop offset="0.067" stop-color="#ffcc00"/><stop offset="0.100" stop-color="#f0ff0f"/><stop offset="0.153" stop-color="#ccff33"/><stop offset="0.231" stop-color="#9eff61"/><stop offset="0.323" stop-color="#57ffa8"/><stop offset="0.423" stop-color="#1affe5"/><stop offset="0.522" stop-color="#00dbff"/><stop offset="0.607" stop-color="#0094ff"/><stop offset="0.778" stop-color="#0029ff"/><stop offset="1" stop-color="#000fff"/></linearGradient><linearGradient id="g12" gradientUnits="userSpaceOnUse" x1="0" y1="527.8" x2="0" y2="735.4"><stop offset="0.000" stop-color="#ff7a00"/><stop offset="0.051" stop-color="#ffa300"/><stop offset="0.067" stop-color="#ffcc00"/><stop offset="0.102" stop-color="#f0ff0f"/><stop offset="0.157" stop-color="#ccff33"/><stop offset="0.239" stop-color="#9eff61"/><stop offset="0.336" stop-color="#57ffa8"/><stop offset="0.441" stop-color="#1affe5"/><stop offset="0.545" stop-color="#00dbff"/><stop offset="0.635" stop-color="#0094ff"/><stop offset="0.814" stop-color="#0029ff"/><stop offset="1" stop-color="#000fff"/></linearGradient><linearGradient id="g13" gradientUnits="userSpaceOnUse" x1="0" y1="527.8" x2="0" y2="735.4"><stop offset="0.000" stop-color="#ff7a00"/><stop offset="0.051" stop-color="#ffa300"/><stop offset="0.067" stop-color="#ffcc00"/><stop offset="0.097" stop-color="#f0ff0f"/><stop offset="0.145" stop-color="#ccff33"/><stop offset="0.217" stop-color="#9eff61"/><stop offset="0.302" stop-color="#57ffa8"/><stop offset="0.393" stop-color="#1affe5"/><stop offset="0.484" stop-color="#00dbff"/><stop offset="0.562" stop-color="#0094ff"/><stop offset="0.718" stop-color="#0029ff"/><stop offset="0.939" stop-color="#000fff"/><stop offset="1" stop-color="#0000ff"/></linearGradient><linearGradient id="g14" gradientUnits="userSpaceOnUse" x1="0" y1="527.8" x2="0" y2="735.4"><stop offset="0.000" stop-color="#ff7a00"/><stop offset="0.051" stop-color="#ffa300"/><stop offset="0.067" stop-color="#ffcc00"/><stop offset="0.100" stop-color="#f0ff0f"/><stop offset="0.151" stop-color="#ccff33"/><stop offset="0.228" stop-color="#9eff61"/><stop offset="0.319" stop-color="#57ffa8"/><stop offset="0.417" stop-color="#1affe5"/><stop offset="0.514" stop-color="#00dbff"/><stop offset="0.598" stop-color="#0094ff"/><stop offset="0.766" stop-color="#0029ff"/><stop offset="1" stop-color="#000fff"/></linearGradient><linearGradient id="g15" gradientUnits="userSpaceOnUse" x1="0" y1="527.8" x2="0" y2="735.4"><stop offset="0.000" stop-color="#ff7a00"/><stop offset="0.051" stop-color="#ffa300"/><stop offset="0.067" stop-color="#ffcc00"/><stop offset="0.092" stop-color="#f0ff0f"/><stop offset="0.132" stop-color="#ccff33"/><stop offset="0.192" stop-color="#9eff61"/><stop offset="0.263" stop-color="#57ffa8"/><stop offset="0.338" stop-color="#1affe5"/><stop offset="0.414" stop-color="#00dbff"/><stop offset="0.479" stop-color="#0094ff"/><stop offset="0.609" stop-color="#0029ff"/><stop offset="0.794" stop-color="#000fff"/><stop offset="1" stop-color="#0000ff"/></linearGradient><linearGradient id="g16" gradientUnits="userSpaceOnUse" x1="0" y1="527.8" x2="0" y2="735.4"><stop offset="0.000" stop-color="#ff7a00"/><stop offset="0.051" stop-color="#ffa300"/><stop offset="0.067" stop-color="#ffcc00"/><stop offset="0.093" stop-color="#f0ff0f"/><stop offset="0.134" stop-color="#ccff33"/><stop offset="0.195" stop-color="#9eff61"/><stop offset="0.267" stop-color="#57ffa8"/><stop offset="0.344" stop-color="#1affe5"/><stop offset="0.422" stop-color="#00dbff"/><stop offset="0.488" stop-color="#0094ff"/><stop offset="0.621" stop-color="#0029ff"/><stop offset="0.810" stop-color="#000fff"/><stop offset="1" stop-color="#0000ff"/></linearGradient><linearGradient id="g17" gradientUnits="userSpaceOnUse" x1="0" y1="527.8" x2="0" y2="735.4"><stop offset="0.000" stop-color="#ff7a00"/><stop offset="0.051" stop-color="#ffa300"/><stop offset="0.067" stop-color="#ffcc00"/><stop offset="0.095" stop-color="#f0ff0f"/><stop offset="0.138" stop-color="#ccff33"/><stop offset="0.203" stop-color="#9eff61"/><stop offset="0.280" stop-color="#57ffa8"/><stop offset="0.362" stop-color="#1affe5"/><stop offset="0.445" stop-color="#00dbff"/><stop offset="0.516" stop-color="#0094ff"/><stop offset="0.658" stop-color="#0029ff"/><stop offset="0.858" stop-color="#000fff"/><stop offset="1" stop-color="#0000ff"/></linearGradient><linearGradient id="g18" gradientUnits="userSpaceOnUse" x1="0" y1="527.8" x2="0" y2="735.4"><stop offset="0.000" stop-color="#ff7a00"/><stop offset="0.051" stop-color="#ffa300"/><stop offset="0.067" stop-color="#ffcc00"/><stop offset="0.094" stop-color="#f0ff0f"/><stop offset="0.137" stop-color="#ccff33"/><stop offset="0.200" stop-color="#9eff61"/><stop offset="0.276" stop-color="#57ffa8"/><stop offset="0.356" stop-color="#1affe5"/><stop offset="0.437" stop-color="#00dbff"/><stop offset="0.507" stop-color="#0094ff"/><stop offset="0.645" stop-color="#0029ff"/><stop offset="0.842" stop-color="#000fff"/><stop offset="1" stop-color="#0000ff"/></linearGradient><linearGradient id="g19" gradientUnits="userSpaceOnUse" x1="0" y1="527.8" x2="0" y2="735.4"><stop offset="0.000" stop-color="#ff7a00"/><stop offset="0.051" stop-color="#ffa300"/><stop offset="0.067" stop-color="#ffcc00"/><stop offset="0.089" stop-color="#f0ff0f"/><stop offset="0.124" stop-color="#ccff33"/><stop offset="0.175" stop-color="#9eff61"/><stop offset="0.237" stop-color="#57ffa8"/><stop offset="0.302" stop-color="#1affe5"/><stop offset="0.368" stop-color="#00dbff"/><stop offset="0.424" stop-color="#0094ff"/><stop offset="0.537" stop-color="#0029ff"/><stop offset="0.697" stop-color="#000fff"/><stop offset="0.885" stop-color="#0000ff"/><stop offset="1" stop-color="#0000f5"/></linearGradient><linearGradient id="g20" gradientUnits="userSpaceOnUse" x1="0" y1="527.8" x2="0" y2="735.4"><stop offset="0.000" stop-color="#ff7a00"/><stop offset="0.051" stop-color="#ffa300"/><stop offset="0.067" stop-color="#ffcc00"/><stop offset="0.090" stop-color="#f0ff0f"/><stop offset="0.125" stop-color="#ccff33"/><stop offset="0.178" stop-color="#9eff61"/><stop offset="0.241" stop-color="#57ffa8"/><stop offset="0.308" stop-color="#1affe5"/><stop offset="0.376" stop-color="#00dbff"/><stop offset="0.434" stop-color="#0094ff"/><stop offset="0.549" stop-color="#0029ff"/><stop offset="0.713" stop-color="#000fff"/><stop offset="0.906" stop-color="#0000ff"/><stop offset="1" stop-color="#0000f5"/></linearGradient><linearGradient id="g21" gradientUnits="userSpaceOnUse" x1="0" y1="527.8" x2="0" y2="735.4"><stop offset="0.000" stop-color="#ff7a00"/><stop offset="0.051" stop-color="#ffa300"/><stop offset="0.067" stop-color="#ffcc00"/><stop offset="0.091" stop-color="#f0ff0f"/><stop offset="0.128" stop-color="#ccff33"/><stop offset="0.184" stop-color="#9eff61"/><stop offset="0.250" stop-color="#57ffa8"/><stop offset="0.320" stop-color="#1affe5"/><stop offset="0.391" stop-color="#00dbff"/><stop offset="0.452" stop-color="#0094ff"/><stop offset="0.573" stop-color="#0029ff"/><stop offset="0.745" stop-color="#000fff"/><stop offset="0.947" stop-color="#0000ff"/><stop offset="1" stop-color="#0000f5"/></linearGradient><linearGradient id="g22" gradientUnits="userSpaceOnUse" x1="0" y1="527.8" x2="0" y2="735.4"><stop offset="0.000" stop-color="#ff7a00"/><stop offset="0.025" stop-color="#ffa300"/><stop offset="0.033" stop-color="#ffcc00"/><stop offset="0.052" stop-color="#f0ff0f"/><stop offset="0.082" stop-color="#ccff33"/><stop offset="0.127" stop-color="#9eff61"/><stop offset="0.180" stop-color="#57ffa8"/><stop offset="0.237" stop-color="#1affe5"/><stop offset="0.295" stop-color="#00dbff"/><stop offset="0.344" stop-color="#0094ff"/><stop offset="0.442" stop-color="#0029ff"/><stop offset="0.581" stop-color="#000fff"/><stop offset="0.745" stop-color="#0000ff"/><stop offset="1" stop-color="#0000f5"/></linearGradient><linearGradient id="g23" gradientUnits="userSpaceOnUse" x1="0" y1="527.8" x2="0" y2="735.4"><stop offset="0.000" stop-color="#ff7a00"/><stop offset="0.025" stop-color="#ffa300"/><stop offset="0.033" stop-color="#ffcc00"/><stop offset="0.051" stop-color="#f0ff0f"/><stop offset="0.080" stop-color="#ccff33"/><stop offset="0.124" stop-color="#9eff61"/><stop offset="0.176" stop-color="#57ffa8"/><stop offset="0.231" stop-color="#1affe5"/><stop offset="0.287" stop-color="#00dbff"/><stop offset="0.335" stop-color="#0094ff"/><stop offset="0.430" stop-color="#0029ff"/><stop offset="0.565" stop-color="#000fff"/><stop offset="0.724" stop-color="#0000ff"/><stop offset="1" stop-color="#0000f5"/></linearGradient><linearGradient id="g24" gradientUnits="userSpaceOnUse" x1="0" y1="527.8" x2="0" y2="735.4"><stop offset="0.000" stop-color="#ff7a00"/><stop offset="0.025" stop-color="#ffa300"/><stop offset="0.033" stop-color="#ffcc00"/><stop offset="0.048" stop-color="#f0ff0f"/><stop offset="0.073" stop-color="#ccff33"/><stop offset="0.110" stop-color="#9eff61"/><stop offset="0.154" stop-color="#57ffa8"/><stop offset="0.201" stop-color="#1affe5"/><stop offset="0.249" stop-color="#00dbff"/><stop offset="0.289" stop-color="#0094ff"/><stop offset="0.370" stop-color="#0029ff"/><stop offset="0.485" stop-color="#000fff"/><stop offset="0.619" stop-color="#0000ff"/><stop offset="0.855" stop-color="#0000f5"/><stop offset="1" stop-color="#0000eb"/></linearGradient><linearGradient id="g25" gradientUnits="userSpaceOnUse" x1="0" y1="527.8" x2="0" y2="735.4"><stop offset="0.000" stop-color="#ff7a00"/><stop offset="0.025" stop-color="#ffa300"/><stop offset="0.033" stop-color="#ffcc00"/><stop offset="0.050" stop-color="#f0ff0f"/><stop offset="0.078" stop-color="#ccff33"/><stop offset="0.119" stop-color="#9eff61"/><stop offset="0.167" stop-color="#57ffa8"/><stop offset="0.219" stop-color="#1affe5"/><stop offset="0.272" stop-color="#00dbff"/><stop offset="0.316" stop-color="#0094ff"/><stop offset="0.406" stop-color="#0029ff"/><stop offset="0.533" stop-color="#000fff"/><stop offset="0.682" stop-color="#0000ff"/><stop offset="0.944" stop-color="#0000f5"/><stop offset="1" stop-color="#0000eb"/></linearGradient><linearGradient id="g26" gradientUnits="userSpaceOnUse" x1="0" y1="527.8" x2="0" y2="735.4"><stop offset="0.000" stop-color="#ff7a00"/><stop offset="0.025" stop-color="#ffa300"/><stop offset="0.033" stop-color="#ffcc00"/><stop offset="0.048" stop-color="#f0ff0f"/><stop offset="0.072" stop-color="#ccff33"/><stop offset="0.108" stop-color="#9eff61"/><stop offset="0.150" stop-color="#57ffa8"/><stop offset="0.195" stop-color="#1affe5"/><stop offset="0.241" stop-color="#00dbff"/><stop offset="0.280" stop-color="#0094ff"/><stop offset="0.358" stop-color="#0029ff"/><stop offset="0.468" stop-color="#000fff"/><stop offset="0.599" stop-color="#0000ff"/><stop offset="0.826" stop-color="#0000f5"/><stop offset="1" stop-color="#0000eb"/></linearGradient><linearGradient id="g27" gradientUnits="userSpaceOnUse" x1="0" y1="527.8" x2="0" y2="735.4"><stop offset="0.000" stop-color="#ff7a00"/><stop offset="0.025" stop-color="#ffa300"/><stop offset="0.033" stop-color="#ffcc00"/><stop offset="0.049" stop-color="#f0ff0f"/><stop offset="0.075" stop-color="#ccff33"/><stop offset="0.113" stop-color="#9eff61"/><stop offset="0.158" stop-color="#57ffa8"/><stop offset="0.207" stop-color="#1affe5"/><stop offset="0.256" stop-color="#00dbff"/><stop offset="0.298" stop-color="#0094ff"/><stop offset="0.382" stop-color="#0029ff"/><stop offset="0.501" stop-color="#000fff"/><stop offset="0.640" stop-color="#0000ff"/><stop offset="0.885" stop-color="#0000f5"/><stop offset="1" stop-color="#0000eb"/></linearGradient><linearGradient id="g28" gradientUnits="userSpaceOnUse" x1="0" y1="527.8" x2="0" y2="735.4"><stop offset="0.000" stop-color="#ff7a00"/><stop offset="0.025" stop-color="#ffa300"/><stop offset="0.033" stop-color="#ffcc00"/><stop offset="0.049" stop-color="#f0ff0f"/><stop offset="0.076" stop-color="#ccff33"/><stop offset="0.116" stop-color="#9eff61"/><stop offset="0.163" stop-color="#57ffa8"/><stop offset="0.213" stop-color="#1affe5"/><stop offset="0.264" stop-color="#00dbff"/><stop offset="0.307" stop-color="#0094ff"/><stop offset="0.394" stop-color="#0029ff"/><stop offset="0.517" stop-color="#000fff"/><stop offset="0.661" stop-color="#0000ff"/><stop offset="0.914" stop-color="#0000f5"/><stop offset="1" stop-color="#0000eb"/></linearGradient><linearGradient id="g29" gradientUnits="userSpaceOnUse" x1="0" y1="527.8" x2="0" y2="735.4"><stop offset="0.000" stop-color="#ff7a00"/><stop offset="0.025" stop-color="#ffa300"/><stop offset="0.033" stop-color="#ffcc00"/><stop offset="0.046" stop-color="#f0ff0f"/><stop offset="0.067" stop-color="#ccff33"/><stop offset="0.099" stop-color="#9eff61"/><stop offset="0.137" stop-color="#57ffa8"/><stop offset="0.177" stop-color="#1affe5"/><stop offset="0.218" stop-color="#00dbff"/><stop offset="0.252" stop-color="#0094ff"/><stop offset="0.322" stop-color="#0029ff"/><stop offset="0.420" stop-color="#000fff"/><stop offset="0.536" stop-color="#0000ff"/><stop offset="0.738" stop-color="#0000f5"/><stop offset="1" stop-color="#0000eb"/></linearGradient><linearGradient id="g30" gradientUnits="userSpaceOnUse" x1="0" y1="527.8" x2="0" y2="735.4"><stop offset="0.000" stop-color="#ff7a00"/><stop offset="0.025" stop-color="#ffa300"/><stop offset="0.033" stop-color="#ffcc00"/><stop offset="0.047" stop-color="#f0ff0f"/><stop offset="0.069" stop-color="#ccff33"/><stop offset="0.102" stop-color="#9eff61"/><stop offset="0.141" stop-color="#57ffa8"/><stop offset="0.183" stop-color="#1affe5"/><stop offset="0.225" stop-color="#00dbff"/><stop offset="0.262" stop-color="#0094ff"/><stop offset="0.334" stop-color="#0029ff"/><stop offset="0.436" stop-color="#000fff"/><stop offset="0.557" stop-color="#0000ff"/><stop offset="0.767" stop-color="#0000f5"/><stop offset="1" stop-color="#0000eb"/></linearGradient><linearGradient id="g31" gradientUnits="userSpaceOnUse" x1="0" y1="527.8" x2="0" y2="735.4"><stop offset="0.000" stop-color="#ff7a00"/><stop offset="0.025" stop-color="#ffa300"/><stop offset="0.033" stop-color="#ffcc00"/><stop offset="0.045" stop-color="#f0ff0f"/><stop offset="0.066" stop-color="#ccff33"/><stop offset="0.096" stop-color="#9eff61"/><stop offset="0.132" stop-color="#57ffa8"/><stop offset="0.171" stop-color="#1affe5"/><stop offset="0.210" stop-color="#00dbff"/><stop offset="0.243" stop-color="#0094ff"/><stop offset="0.310" stop-color="#0029ff"/><stop offset="0.404" stop-color="#000fff"/><stop offset="0.515" stop-color="#0000ff"/><stop offset="0.709" stop-color="#0000f5"/><stop offset="0.986" stop-color="#0000eb"/><stop offset="1" stop-color="#0000e0"/></linearGradient><linearGradient id="g32" gradientUnits="userSpaceOnUse" x1="0" y1="527.8" x2="0" y2="735.4"><stop offset="0.000" stop-color="#ff7a00"/><stop offset="0.025" stop-color="#ffa300"/><stop offset="0.033" stop-color="#ffcc00"/><stop offset="0.047" stop-color="#f0ff0f"/><stop offset="0.070" stop-color="#ccff33"/><stop offset="0.105" stop-color="#9eff61"/><stop offset="0.145" stop-color="#57ffa8"/><stop offset="0.189" stop-color="#1affe5"/><stop offset="0.233" stop-color="#00dbff"/><stop offset="0.271" stop-color="#0094ff"/><stop offset="0.346" stop-color="#0029ff"/><stop offset="0.452" stop-color="#000fff"/><stop offset="0.578" stop-color="#0000ff"/><stop offset="0.797" stop-color="#0000f5"/><stop offset="1" stop-color="#0000eb"/></linearGradient><linearGradient id="g33" gradientUnits="userSpaceOnUse" x1="0" y1="527.8" x2="0" y2="735.4"><stop offset="0.000" stop-color="#ff7a00"/><stop offset="0.038" stop-color="#ffa300"/><stop offset="0.050" stop-color="#ffcc00"/><stop offset="0.070" stop-color="#f0ff0f"/><stop offset="0.102" stop-color="#ccff33"/><stop offset="0.150" stop-color="#9eff61"/><stop offset="0.206" stop-color="#57ffa8"/><stop offset="0.267" stop-color="#1affe5"/><stop offset="0.328" stop-color="#00dbff"/><stop offset="0.380" stop-color="#0094ff"/><stop offset="0.484" stop-color="#0029ff"/><stop offset="0.631" stop-color="#000fff"/><stop offset="0.804" stop-color="#0000ff"/><stop offset="1" stop-color="#0000f5"/></linearGradient><linearGradient id="g34" gradientUnits="userSpaceOnUse" x1="0" y1="527.8" x2="0" y2="735.4"><stop offset="0.000" stop-color="#ff7a00"/><stop offset="0.038" stop-color="#ffa300"/><stop offset="0.050" stop-color="#ffcc00"/><stop offset="0.071" stop-color="#f0ff0f"/><stop offset="0.104" stop-color="#ccff33"/><stop offset="0.153" stop-color="#9eff61"/><stop offset="0.211" stop-color="#57ffa8"/><stop offset="0.273" stop-color="#1affe5"/><stop offset="0.335" stop-color="#00dbff"/><stop offset="0.389" stop-color="#0094ff"/><stop offset="0.496" stop-color="#0029ff"/><stop offset="0.647" stop-color="#000fff"/><stop offset="0.825" stop-color="#0000ff"/><stop offset="1" stop-color="#0000f5"/></linearGradient><linearGradient id="g35" gradientUnits="userSpaceOnUse" x1="0" y1="527.8" x2="0" y2="735.4"><stop offset="0.000" stop-color="#ff7a00"/><stop offset="0.038" stop-color="#ffa300"/><stop offset="0.050" stop-color="#ffcc00"/><stop offset="0.069" stop-color="#f0ff0f"/><stop offset="0.099" stop-color="#ccff33"/><stop offset="0.144" stop-color="#9eff61"/><stop offset="0.197" stop-color="#57ffa8"/><stop offset="0.255" stop-color="#1affe5"/><stop offset="0.312" stop-color="#00dbff"/><stop offset="0.361" stop-color="#0094ff"/><stop offset="0.460" stop-color="#0029ff"/><stop offset="0.599" stop-color="#000fff"/><stop offset="0.763" stop-color="#0000ff"/><stop offset="1" stop-color="#0000f5"/></linearGradient><linearGradient id="g36" gradientUnits="userSpaceOnUse" x1="0" y1="527.8" x2="0" y2="735.4"><stop offset="0.000" stop-color="#ff7a00"/><stop offset="0.038" stop-color="#ffa300"/><stop offset="0.050" stop-color="#ffcc00"/><stop offset="0.068" stop-color="#f0ff0f"/><stop offset="0.098" stop-color="#ccff33"/><stop offset="0.141" stop-color="#9eff61"/><stop offset="0.193" stop-color="#57ffa8"/><stop offset="0.249" stop-color="#1affe5"/><stop offset="0.304" stop-color="#00dbff"/><stop offset="0.352" stop-color="#0094ff"/><stop offset="0.447" stop-color="#0029ff"/><stop offset="0.583" stop-color="#000fff"/><stop offset="0.742" stop-color="#0000ff"/><stop offset="1" stop-color="#0000f5"/></linearGradient><linearGradient id="g37" gradientUnits="userSpaceOnUse" x1="0" y1="527.8" x2="0" y2="735.4"><stop offset="0.000" stop-color="#ff7a00"/><stop offset="0.038" stop-color="#ffa300"/><stop offset="0.050" stop-color="#ffcc00"/><stop offset="0.069" stop-color="#f0ff0f"/><stop offset="0.101" stop-color="#ccff33"/><stop offset="0.147" stop-color="#9eff61"/><stop offset="0.202" stop-color="#57ffa8"/><stop offset="0.261" stop-color="#1affe5"/><stop offset="0.320" stop-color="#00dbff"/><stop offset="0.370" stop-color="#0094ff"/><stop offset="0.472" stop-color="#0029ff"/><stop offset="0.615" stop-color="#000fff"/><stop offset="0.783" stop-color="#0000ff"/><stop offset="1" stop-color="#0000f5"/></linearGradient><linearGradient id="g38" gradientUnits="userSpaceOnUse" x1="0" y1="527.8" x2="0" y2="735.4"><stop offset="0.000" stop-color="#ff7a00"/><stop offset="0.038" stop-color="#ffa300"/><stop offset="0.050" stop-color="#ffcc00"/><stop offset="0.061" stop-color="#f0ff0f"/><stop offset="0.079" stop-color="#ccff33"/><stop offset="0.105" stop-color="#9eff61"/><stop offset="0.137" stop-color="#57ffa8"/><stop offset="0.171" stop-color="#1affe5"/><stop offset="0.204" stop-color="#00dbff"/><stop offset="0.233" stop-color="#0094ff"/><stop offset="0.291" stop-color="#0029ff"/><stop offset="0.373" stop-color="#000fff"/><stop offset="0.469" stop-color="#0000ff"/><stop offset="0.638" stop-color="#0000f5"/><stop offset="0.879" stop-color="#0000eb"/><stop offset="1" stop-color="#0000e0"/></linearGradient><linearGradient id="g39" gradientUnits="userSpaceOnUse" x1="0" y1="527.8" x2="0" y2="735.4"><stop offset="0.000" stop-color="#ff7a00"/><stop offset="0.038" stop-color="#ffa300"/><stop offset="0.050" stop-color="#ffcc00"/><stop offset="0.060" stop-color="#f0ff0f"/><stop offset="0.076" stop-color="#ccff33"/><stop offset="0.100" stop-color="#9eff61"/><stop offset="0.128" stop-color="#57ffa8"/><stop offset="0.158" stop-color="#1affe5"/><stop offset="0.189" stop-color="#00dbff"/><stop offset="0.215" stop-color="#0094ff"/><stop offset="0.267" stop-color="#0029ff"/><stop offset="0.341" stop-color="#000fff"/><stop offset="0.427" stop-color="#0000ff"/><stop offset="0.579" stop-color="#0000f5"/><stop offset="0.796" stop-color="#0000eb"/><stop offset="1" stop-color="#0000e0"/></linearGradient><linearGradient id="g40" gradientUnits="userSpaceOnUse" x1="0" y1="527.8" x2="0" y2="735.4"><stop offset="0.000" stop-color="#ff7a00"/><stop offset="0.038" stop-color="#ffa300"/><stop offset="0.050" stop-color="#ffcc00"/><stop offset="0.061" stop-color="#f0ff0f"/><stop offset="0.078" stop-color="#ccff33"/><stop offset="0.103" stop-color="#9eff61"/><stop offset="0.132" stop-color="#57ffa8"/><stop offset="0.164" stop-color="#1affe5"/><stop offset="0.197" stop-color="#00dbff"/><stop offset="0.224" stop-color="#0094ff"/><stop offset="0.279" stop-color="#0029ff"/><stop offset="0.357" stop-color="#000fff"/><stop offset="0.448" stop-color="#0000ff"/><stop offset="0.608" stop-color="#0000f5"/><stop offset="0.837" stop-color="#0000eb"/><stop offset="1" stop-color="#0000e0"/></linearGradient><linearGradient id="g41" gradientUnits="userSpaceOnUse" x1="0" y1="527.8" x2="0" y2="735.4"><stop offset="0.000" stop-color="#ff7a00"/><stop offset="0.038" stop-color="#ffa300"/><stop offset="0.050" stop-color="#ffcc00"/><stop offset="0.072" stop-color="#f0ff0f"/><stop offset="0.106" stop-color="#ccff33"/><stop offset="0.158" stop-color="#9eff61"/><stop offset="0.219" stop-color="#57ffa8"/><stop offset="0.285" stop-color="#1affe5"/><stop offset="0.351" stop-color="#00dbff"/><stop offset="0.407" stop-color="#0094ff"/><stop offset="0.520" stop-color="#0029ff"/><stop offset="0.679" stop-color="#000fff"/><stop offset="0.867" stop-color="#0000ff"/><stop offset="1" stop-color="#0000f5"/></linearGradient><linearGradient id="g42" gradientUnits="userSpaceOnUse" x1="0" y1="527.8" x2="0" y2="735.4"><stop offset="0.000" stop-color="#ff7a00"/><stop offset="0.038" stop-color="#ffa300"/><stop offset="0.050" stop-color="#ffcc00"/><stop offset="0.062" stop-color="#f0ff0f"/><stop offset="0.080" stop-color="#ccff33"/><stop offset="0.108" stop-color="#9eff61"/><stop offset="0.141" stop-color="#57ffa8"/><stop offset="0.177" stop-color="#1affe5"/><stop offset="0.212" stop-color="#00dbff"/><stop offset="0.242" stop-color="#0094ff"/><stop offset="0.303" stop-color="#0029ff"/><stop offset="0.389" stop-color="#000fff"/><stop offset="0.490" stop-color="#0000ff"/><stop offset="0.667" stop-color="#0000f5"/><stop offset="0.920" stop-color="#0000eb"/><stop offset="1" stop-color="#0000e0"/></linearGradient><linearGradient id="g43" gradientUnits="userSpaceOnUse" x1="0" y1="527.8" x2="0" y2="735.4"><stop offset="0.000" stop-color="#ff7a00"/><stop offset="0.038" stop-color="#ffa300"/><stop offset="0.050" stop-color="#ffcc00"/><stop offset="0.068" stop-color="#f0ff0f"/><stop offset="0.096" stop-color="#ccff33"/><stop offset="0.139" stop-color="#9eff61"/><stop offset="0.189" stop-color="#57ffa8"/><stop offset="0.243" stop-color="#1affe5"/><stop offset="0.297" stop-color="#00dbff"/><stop offset="0.343" stop-color="#0094ff"/><stop offset="0.435" stop-color="#0029ff"/><stop offset="0.566" stop-color="#000fff"/><stop offset="0.721" stop-color="#0000ff"/><stop offset="0.990" stop-color="#0000f5"/><stop offset="1" stop-color="#0000eb"/></linearGradient><linearGradient id="g44" gradientUnits="userSpaceOnUse" x1="0" y1="527.8" x2="0" y2="735.4"><stop offset="0.000" stop-color="#ff7a00"/><stop offset="0.029" stop-color="#ffa300"/><stop offset="0.039" stop-color="#ffcc00"/><stop offset="0.050" stop-color="#f0ff0f"/><stop offset="0.067" stop-color="#ccff33"/><stop offset="0.094" stop-color="#9eff61"/><stop offset="0.125" stop-color="#57ffa8"/><stop offset="0.159" stop-color="#1affe5"/><stop offset="0.193" stop-color="#00dbff"/><stop offset="0.222" stop-color="#0094ff"/><stop offset="0.279" stop-color="#0029ff"/><stop offset="0.361" stop-color="#000fff"/><stop offset="0.458" stop-color="#0000ff"/><stop offset="0.626" stop-color="#0000f5"/><stop offset="0.867" stop-color="#0000eb"/><stop offset="1" stop-color="#0000e0"/></linearGradient><linearGradient id="g45" gradientUnits="userSpaceOnUse" x1="0" y1="527.8" x2="0" y2="735.4"><stop offset="0.000" stop-color="#ff7a00"/><stop offset="0.029" stop-color="#ffa300"/><stop offset="0.039" stop-color="#ffcc00"/><stop offset="0.050" stop-color="#f0ff0f"/><stop offset="0.069" stop-color="#ccff33"/><stop offset="0.097" stop-color="#9eff61"/><stop offset="0.130" stop-color="#57ffa8"/><stop offset="0.165" stop-color="#1affe5"/><stop offset="0.200" stop-color="#00dbff"/><stop offset="0.231" stop-color="#0094ff"/><stop offset="0.291" stop-color="#0029ff"/><stop offset="0.377" stop-color="#000fff"/><stop offset="0.479" stop-color="#0000ff"/><stop offset="0.656" stop-color="#0000f5"/><stop offset="0.908" stop-color="#0000eb"/><stop offset="1" stop-color="#0000e0"/></linearGradient><linearGradient id="g46" gradientUnits="userSpaceOnUse" x1="0" y1="527.8" x2="0" y2="735.4"><stop offset="0.000" stop-color="#ff7a00"/><stop offset="0.029" stop-color="#ffa300"/><stop offset="0.039" stop-color="#ffcc00"/><stop offset="0.051" stop-color="#f0ff0f"/><stop offset="0.070" stop-color="#ccff33"/><stop offset="0.099" stop-color="#9eff61"/><stop offset="0.134" stop-color="#57ffa8"/><stop offset="0.171" stop-color="#1affe5"/><stop offset="0.208" stop-color="#00dbff"/><stop offset="0.240" stop-color="#0094ff"/><stop offset="0.303" stop-color="#0029ff"/><stop offset="0.394" stop-color="#000fff"/><stop offset="0.500" stop-color="#0000ff"/><stop offset="0.685" stop-color="#0000f5"/><stop offset="0.950" stop-color="#0000eb"/><stop offset="1" stop-color="#0000e0"/></linearGradient><linearGradient id="g47" gradientUnits="userSpaceOnUse" x1="0" y1="527.8" x2="0" y2="735.4"><stop offset="0.000" stop-color="#ff7a00"/><stop offset="0.022" stop-color="#ffa300"/><stop offset="0.029" stop-color="#ffcc00"/><stop offset="0.042" stop-color="#f0ff0f"/><stop offset="0.062" stop-color="#ccff33"/><stop offset="0.093" stop-color="#9eff61"/><stop offset="0.129" stop-color="#57ffa8"/><stop offset="0.167" stop-color="#1affe5"/><stop offset="0.206" stop-color="#00dbff"/><stop offset="0.239" stop-color="#0094ff"/><stop offset="0.306" stop-color="#0029ff"/><stop offset="0.400" stop-color="#000fff"/><stop offset="0.511" stop-color="#0000ff"/><stop offset="0.705" stop-color="#0000f5"/><stop offset="0.982" stop-color="#0000eb"/><stop offset="1" stop-color="#0000e0"/></linearGradient><linearGradient id="g48" gradientUnits="userSpaceOnUse" x1="0" y1="527.8" x2="0" y2="735.4"><stop offset="0.000" stop-color="#ff7a00"/><stop offset="0.022" stop-color="#ffa300"/><stop offset="0.029" stop-color="#ffcc00"/><stop offset="0.036" stop-color="#f0ff0f"/><stop offset="0.046" stop-color="#ccff33"/><stop offset="0.062" stop-color="#9eff61"/><stop offset="0.081" stop-color="#57ffa8"/><stop offset="0.101" stop-color="#1affe5"/><stop offset="0.121" stop-color="#00dbff"/><stop offset="0.139" stop-color="#0094ff"/><stop offset="0.173" stop-color="#0029ff"/><stop offset="0.223" stop-color="#000fff"/><stop offset="0.280" stop-color="#0000ff"/><stop offset="0.382" stop-color="#0000f5"/><stop offset="0.526" stop-color="#0000eb"/><stop offset="0.873" stop-color="#0000e0"/></linearGradient><linearGradient id="g49" gradientUnits="userSpaceOnUse" x1="0" y1="527.8" x2="0" y2="735.4"><stop offset="0.000" stop-color="#ff7a00"/><stop offset="0.022" stop-color="#ffa300"/><stop offset="0.029" stop-color="#ffcc00"/><stop offset="0.041" stop-color="#f0ff0f"/><stop offset="0.061" stop-color="#ccff33"/><stop offset="0.090" stop-color="#9eff61"/><stop offset="0.124" stop-color="#57ffa8"/><stop offset="0.161" stop-color="#1affe5"/><stop offset="0.198" stop-color="#00dbff"/><stop offset="0.230" stop-color="#0094ff"/><stop offset="0.294" stop-color="#0029ff"/><stop offset="0.384" stop-color="#000fff"/><stop offset="0.490" stop-color="#0000ff"/><stop offset="0.675" stop-color="#0000f5"/><stop offset="0.940" stop-color="#0000eb"/><stop offset="1" stop-color="#0000e0"/></linearGradient><linearGradient id="g50" gradientUnits="userSpaceOnUse" x1="0" y1="527.8" x2="0" y2="735.4"><stop offset="0.000" stop-color="#ff7a00"/><stop offset="0.022" stop-color="#ffa300"/><stop offset="0.029" stop-color="#ffcc00"/><stop offset="0.045" stop-color="#f0ff0f"/><stop offset="0.071" stop-color="#ccff33"/><stop offset="0.109" stop-color="#9eff61"/><stop offset="0.155" stop-color="#57ffa8"/><stop offset="0.204" stop-color="#1affe5"/><stop offset="0.252" stop-color="#00dbff"/><stop offset="0.294" stop-color="#0094ff"/><stop offset="0.378" stop-color="#0029ff"/><stop offset="0.497" stop-color="#000fff"/><stop offset="0.637" stop-color="#0000ff"/><stop offset="0.881" stop-color="#0000f5"/><stop offset="1" stop-color="#0000eb"/></linearGradient><linearGradient id="g51" gradientUnits="userSpaceOnUse" x1="0" y1="527.8" x2="0" y2="735.4"><stop offset="0.000" stop-color="#ff7a00"/><stop offset="0.022" stop-color="#ffa300"/><stop offset="0.029" stop-color="#ffcc00"/><stop offset="0.033" stop-color="#f0ff0f"/><stop offset="0.040" stop-color="#ccff33"/><stop offset="0.051" stop-color="#9eff61"/><stop offset="0.064" stop-color="#57ffa8"/><stop offset="0.077" stop-color="#1affe5"/><stop offset="0.091" stop-color="#00dbff"/><stop offset="0.102" stop-color="#0094ff"/><stop offset="0.125" stop-color="#0029ff"/><stop offset="0.158" stop-color="#000fff"/><stop offset="0.197" stop-color="#0000ff"/><stop offset="0.264" stop-color="#0000f5"/><stop offset="0.360" stop-color="#0000eb"/><stop offset="0.592" stop-color="#0000e0"/></linearGradient><linearGradient id="g52" gradientUnits="userSpaceOnUse" x1="0" y1="527.8" x2="0" y2="735.4"><stop offset="0.000" stop-color="#ff7a00"/><stop offset="0.022" stop-color="#ffa300"/><stop offset="0.029" stop-color="#ffcc00"/><stop offset="0.033" stop-color="#f0ff0f"/><stop offset="0.039" stop-color="#ccff33"/><stop offset="0.048" stop-color="#9eff61"/><stop offset="0.059" stop-color="#57ffa8"/><stop offset="0.071" stop-color="#1affe5"/><stop offset="0.083" stop-color="#00dbff"/><stop offset="0.093" stop-color="#0094ff"/><stop offset="0.113" stop-color="#0029ff"/><stop offset="0.142" stop-color="#000fff"/><stop offset="0.176" stop-color="#0000ff"/><stop offset="0.235" stop-color="#0000f5"/><stop offset="0.319" stop-color="#0000eb"/><stop offset="0.521" stop-color="#0000e0"/></linearGradient><linearGradient id="g53" gradientUnits="userSpaceOnUse" x1="0" y1="527.8" x2="0" y2="735.4"><stop offset="0.000" stop-color="#ff7a00"/><stop offset="0.022" stop-color="#ffa300"/><stop offset="0.029" stop-color="#ffcc00"/><stop offset="0.046" stop-color="#f0ff0f"/><stop offset="0.072" stop-color="#ccff33"/><stop offset="0.112" stop-color="#9eff61"/><stop offset="0.159" stop-color="#57ffa8"/><stop offset="0.210" stop-color="#1affe5"/><stop offset="0.260" stop-color="#00dbff"/><stop offset="0.303" stop-color="#0094ff"/><stop offset="0.390" stop-color="#0029ff"/><stop offset="0.513" stop-color="#000fff"/><stop offset="0.658" stop-color="#0000ff"/><stop offset="0.910" stop-color="#0000f5"/><stop offset="1" stop-color="#0000eb"/></linearGradient><linearGradient id="g54" gradientUnits="userSpaceOnUse" x1="0" y1="527.8" x2="0" y2="735.4"><stop offset="0.000" stop-color="#ff7a00"/><stop offset="0.022" stop-color="#ffa300"/><stop offset="0.029" stop-color="#ffcc00"/><stop offset="0.032" stop-color="#f0ff0f"/><stop offset="0.038" stop-color="#ccff33"/><stop offset="0.046" stop-color="#9eff61"/><stop offset="0.055" stop-color="#57ffa8"/><stop offset="0.065" stop-color="#1affe5"/><stop offset="0.075" stop-color="#00dbff"/><stop offset="0.084" stop-color="#0094ff"/><stop offset="0.101" stop-color="#0029ff"/><stop offset="0.126" stop-color="#000fff"/><stop offset="0.155" stop-color="#0000ff"/><stop offset="0.205" stop-color="#0000f5"/><stop offset="0.277" stop-color="#0000eb"/><stop offset="0.451" stop-color="#0000e0"/></linearGradient><linearGradient id="g55" gradientUnits="userSpaceOnUse" x1="0" y1="527.8" x2="0" y2="735.4"><stop offset="0.000" stop-color="#ff7a00"/><stop offset="0.022" stop-color="#ffa300"/><stop offset="0.029" stop-color="#ffcc00"/><stop offset="0.039" stop-color="#f0ff0f"/><stop offset="0.055" stop-color="#ccff33"/><stop offset="0.079" stop-color="#9eff61"/><stop offset="0.107" stop-color="#57ffa8"/><stop offset="0.137" stop-color="#1affe5"/><stop offset="0.168" stop-color="#00dbff"/><stop offset="0.194" stop-color="#0094ff"/><stop offset="0.246" stop-color="#0029ff"/><stop offset="0.319" stop-color="#000fff"/><stop offset="0.406" stop-color="#0000ff"/><stop offset="0.558" stop-color="#0000f5"/><stop offset="0.775" stop-color="#0000eb"/><stop offset="1" stop-color="#0000e0"/></linearGradient><linearGradient id="g56" gradientUnits="userSpaceOnUse" x1="0" y1="527.8" x2="0" y2="735.4"><stop offset="0.000" stop-color="#ff7a00"/><stop offset="0.022" stop-color="#ffa300"/><stop offset="0.029" stop-color="#ffcc00"/><stop offset="0.042" stop-color="#f0ff0f"/><stop offset="0.064" stop-color="#ccff33"/><stop offset="0.095" stop-color="#9eff61"/><stop offset="0.133" stop-color="#57ffa8"/><stop offset="0.173" stop-color="#1affe5"/><stop offset="0.214" stop-color="#00dbff"/><stop offset="0.249" stop-color="#0094ff"/><stop offset="0.318" stop-color="#0029ff"/><stop offset="0.416" stop-color="#000fff"/><stop offset="0.532" stop-color="#0000ff"/><stop offset="0.734" stop-color="#0000f5"/><stop offset="1" stop-color="#0000eb"/></linearGradient><linearGradient id="g57" gradientUnits="userSpaceOnUse" x1="0" y1="527.8" x2="0" y2="735.4"><stop offset="0.000" stop-color="#ff7a00"/><stop offset="0.022" stop-color="#ffa300"/><stop offset="0.029" stop-color="#ffcc00"/><stop offset="0.043" stop-color="#f0ff0f"/><stop offset="0.065" stop-color="#ccff33"/><stop offset="0.098" stop-color="#9eff61"/><stop offset="0.137" stop-color="#57ffa8"/><stop offset="0.179" stop-color="#1affe5"/><stop offset="0.222" stop-color="#00dbff"/><stop offset="0.258" stop-color="#0094ff"/><stop offset="0.330" stop-color="#0029ff"/><stop offset="0.432" stop-color="#000fff"/><stop offset="0.553" stop-color="#0000ff"/><stop offset="0.763" stop-color="#0000f5"/><stop offset="1" stop-color="#0000eb"/></linearGradient><linearGradient id="g58" gradientUnits="userSpaceOnUse" x1="0" y1="527.8" x2="0" y2="735.4"><stop offset="0.000" stop-color="#ff7a00"/><stop offset="0.022" stop-color="#ffa300"/><stop offset="0.029" stop-color="#ffcc00"/><stop offset="0.047" stop-color="#f0ff0f"/><stop offset="0.075" stop-color="#ccff33"/><stop offset="0.118" stop-color="#9eff61"/><stop offset="0.168" stop-color="#57ffa8"/><stop offset="0.222" stop-color="#1affe5"/><stop offset="0.276" stop-color="#00dbff"/><stop offset="0.322" stop-color="#0094ff"/><stop offset="0.414" stop-color="#0029ff"/><stop offset="0.545" stop-color="#000fff"/><stop offset="0.699" stop-color="#0000ff"/><stop offset="0.969" stop-color="#0000f5"/><stop offset="1" stop-color="#0000eb"/></linearGradient><linearGradient id="g59" gradientUnits="userSpaceOnUse" x1="0" y1="527.8" x2="0" y2="735.4"><stop offset="0.000" stop-color="#ff7a00"/><stop offset="0.022" stop-color="#ffa300"/><stop offset="0.029" stop-color="#ffcc00"/><stop offset="0.036" stop-color="#f0ff0f"/><stop offset="0.048" stop-color="#ccff33"/><stop offset="0.065" stop-color="#9eff61"/><stop offset="0.085" stop-color="#57ffa8"/><stop offset="0.107" stop-color="#1affe5"/><stop offset="0.129" stop-color="#00dbff"/><stop offset="0.148" stop-color="#0094ff"/><stop offset="0.185" stop-color="#0029ff"/><stop offset="0.239" stop-color="#000fff"/><stop offset="0.301" stop-color="#0000ff"/><stop offset="0.411" stop-color="#0000f5"/><stop offset="0.567" stop-color="#0000eb"/><stop offset="0.943" stop-color="#0000e0"/></linearGradient></defs>
<clipPath id="m3"><rect x="101.5" y="527.8" width="443" height="207.6"/></clipPath>
<g clip-path="url(#m3)" shape-rendering="crispEdges">
<rect x="101.50" y="527.8" width="3.05" height="207.60000000000002" fill="url(#g0)"/>
<rect x="104.25" y="527.8" width="3.05" height="207.60000000000002" fill="url(#g0)"/>
<rect x="107.00" y="527.8" width="3.05" height="207.60000000000002" fill="url(#g1)"/>
<rect x="109.75" y="527.8" width="3.05" height="207.60000000000002" fill="url(#g2)"/>
<rect x="112.50" y="527.8" width="3.05" height="207.60000000000002" fill="url(#g3)"/>
<rect x="115.25" y="527.8" width="3.05" height="207.60000000000002" fill="url(#g3)"/>
<rect x="118.00" y="527.8" width="3.10" height="207.60000000000002" fill="url(#g4)"/>
<rect x="120.80" y="527.8" width="3.10" height="207.60000000000002" fill="url(#g5)"/>
<rect x="123.60" y="527.8" width="3.10" height="207.60000000000002" fill="url(#g4)"/>
<rect x="126.40" y="527.8" width="3.10" height="207.60000000000002" fill="url(#g5)"/>
<rect x="129.20" y="527.8" width="3.10" height="207.60000000000002" fill="url(#g4)"/>
<rect x="132.00" y="527.8" width="4.30" height="207.60000000000002" fill="url(#g6)"/>
<rect x="136.00" y="527.8" width="3.35" height="207.60000000000002" fill="url(#g7)"/>
<rect x="139.05" y="527.8" width="3.35" height="207.60000000000002" fill="url(#g8)"/>
<rect x="142.10" y="527.8" width="3.35" height="207.60000000000002" fill="url(#g9)"/>
<rect x="145.14" y="527.8" width="3.35" height="207.60000000000002" fill="url(#g10)"/>
<rect x="148.19" y="527.8" width="3.35" height="207.60000000000002" fill="url(#g11)"/>
<rect x="151.24" y="527.8" width="3.35" height="207.60000000000002" fill="url(#g12)"/>
<rect x="154.29" y="527.8" width="3.35" height="207.60000000000002" fill="url(#g11)"/>
<rect x="157.33" y="527.8" width="3.35" height="207.60000000000002" fill="url(#g7)"/>
<rect x="160.38" y="527.8" width="3.35" height="207.60000000000002" fill="url(#g12)"/>
<rect x="163.43" y="527.8" width="3.35" height="207.60000000000002" fill="url(#g13)"/>
<rect x="166.48" y="527.8" width="3.35" height="207.60000000000002" fill="url(#g8)"/>
<rect x="169.52" y="527.8" width="3.35" height="207.60000000000002" fill="url(#g10)"/>
<rect x="172.57" y="527.8" width="3.35" height="207.60000000000002" fill="url(#g9)"/>
<rect x="175.62" y="527.8" width="3.35" height="207.60000000000002" fill="url(#g9)"/>
<rect x="178.67" y="527.8" width="3.35" height="207.60000000000002" fill="url(#g10)"/>
<rect x="181.71" y="527.8" width="3.35" height="207.60000000000002" fill="url(#g8)"/>
<rect x="184.76" y="527.8" width="3.35" height="207.60000000000002" fill="url(#g9)"/>
<rect x="187.81" y="527.8" width="3.35" height="207.60000000000002" fill="url(#g11)"/>
<rect x="190.86" y="527.8" width="3.35" height="207.60000000000002" fill="url(#g11)"/>
<rect x="193.90" y="527.8" width="3.35" height="207.60000000000002" fill="url(#g7)"/>
<rect x="196.95" y="527.8" width="3.35" height="207.60000000000002" fill="url(#g14)"/>
<rect x="200.00" y="527.8" width="3.30" height="207.60000000000002" fill="url(#g15)"/>
<rect x="203.00" y="527.8" width="3.30" height="207.60000000000002" fill="url(#g15)"/>
<rect x="206.00" y="527.8" width="3.30" height="207.60000000000002" fill="url(#g16)"/>
<rect x="209.00" y="527.8" width="3.30" height="207.60000000000002" fill="url(#g17)"/>
<rect x="212.00" y="527.8" width="3.30" height="207.60000000000002" fill="url(#g18)"/>
<rect x="215.00" y="527.8" width="3.41" height="207.60000000000002" fill="url(#g19)"/>
<rect x="218.11" y="527.8" width="3.41" height="207.60000000000002" fill="url(#g20)"/>
<rect x="221.22" y="527.8" width="3.41" height="207.60000000000002" fill="url(#g20)"/>
<rect x="224.33" y="527.8" width="3.41" height="207.60000000000002" fill="url(#g19)"/>
<rect x="227.44" y="527.8" width="3.41" height="207.60000000000002" fill="url(#g21)"/>
<rect x="230.56" y="527.8" width="3.41" height="207.60000000000002" fill="url(#g6)"/>
<rect x="233.67" y="527.8" width="3.41" height="207.60000000000002" fill="url(#g19)"/>
<rect x="236.78" y="527.8" width="3.41" height="207.60000000000002" fill="url(#g20)"/>
<rect x="239.89" y="527.8" width="3.41" height="207.60000000000002" fill="url(#g20)"/>
<rect x="243.00" y="527.8" width="3.80" height="207.60000000000002" fill="url(#g22)"/>
<rect x="246.50" y="527.8" width="3.80" height="207.60000000000002" fill="url(#g23)"/>
<rect x="250.00" y="527.8" width="3.50" height="207.60000000000002" fill="url(#g24)"/>
<rect x="253.20" y="527.8" width="3.50" height="207.60000000000002" fill="url(#g25)"/>
<rect x="256.40" y="527.8" width="3.50" height="207.60000000000002" fill="url(#g26)"/>
<rect x="259.60" y="527.8" width="3.50" height="207.60000000000002" fill="url(#g27)"/>
<rect x="262.80" y="527.8" width="3.50" height="207.60000000000002" fill="url(#g28)"/>
<rect x="266.00" y="527.8" width="2.97" height="207.60000000000002" fill="url(#g29)"/>
<rect x="268.67" y="527.8" width="2.97" height="207.60000000000002" fill="url(#g30)"/>
<rect x="271.33" y="527.8" width="2.97" height="207.60000000000002" fill="url(#g31)"/>
<rect x="274.00" y="527.8" width="3.30" height="207.60000000000002" fill="url(#g25)"/>
<rect x="277.00" y="527.8" width="3.55" height="207.60000000000002" fill="url(#g32)"/>
<rect x="280.25" y="527.8" width="3.55" height="207.60000000000002" fill="url(#g30)"/>
<rect x="283.50" y="527.8" width="3.55" height="207.60000000000002" fill="url(#g32)"/>
<rect x="286.75" y="527.8" width="3.55" height="207.60000000000002" fill="url(#g29)"/>
<rect x="290.00" y="527.8" width="2.97" height="207.60000000000002" fill="url(#g27)"/>
<rect x="292.67" y="527.8" width="2.97" height="207.60000000000002" fill="url(#g24)"/>
<rect x="295.33" y="527.8" width="2.97" height="207.60000000000002" fill="url(#g24)"/>
<rect x="298.00" y="527.8" width="3.50" height="207.60000000000002" fill="url(#g30)"/>
<rect x="301.20" y="527.8" width="3.50" height="207.60000000000002" fill="url(#g32)"/>
<rect x="304.40" y="527.8" width="3.50" height="207.60000000000002" fill="url(#g26)"/>
<rect x="307.60" y="527.8" width="3.50" height="207.60000000000002" fill="url(#g30)"/>
<rect x="310.80" y="527.8" width="3.50" height="207.60000000000002" fill="url(#g32)"/>
<rect x="314.00" y="527.8" width="3.80" height="207.60000000000002" fill="url(#g24)"/>
<rect x="317.50" y="527.8" width="3.80" height="207.60000000000002" fill="url(#g25)"/>
<rect x="321.00" y="527.8" width="3.30" height="207.60000000000002" fill="url(#g33)"/>
<rect x="324.00" y="527.8" width="3.30" height="207.60000000000002" fill="url(#g34)"/>
<rect x="327.00" y="527.8" width="3.30" height="207.60000000000002" fill="url(#g34)"/>
<rect x="330.00" y="527.8" width="3.30" height="207.60000000000002" fill="url(#g35)"/>
<rect x="333.00" y="527.8" width="3.30" height="207.60000000000002" fill="url(#g35)"/>
<rect x="336.00" y="527.8" width="3.30" height="207.60000000000002" fill="url(#g33)"/>
<rect x="339.00" y="527.8" width="3.30" height="207.60000000000002" fill="url(#g36)"/>
<rect x="342.00" y="527.8" width="3.30" height="207.60000000000002" fill="url(#g37)"/>
<rect x="345.00" y="527.8" width="3.30" height="207.60000000000002" fill="url(#g36)"/>
<rect x="348.00" y="527.8" width="3.30" height="207.60000000000002" fill="url(#g36)"/>
<rect x="351.00" y="527.8" width="3.30" height="207.60000000000002" fill="url(#g36)"/>
<rect x="354.00" y="527.8" width="3.30" height="207.60000000000002" fill="url(#g33)"/>
<rect x="357.00" y="527.8" width="3.30" height="207.60000000000002" fill="url(#g36)"/>
<rect x="360.00" y="527.8" width="3.30" height="207.60000000000002" fill="url(#g35)"/>
<rect x="363.00" y="527.8" width="3.30" height="207.60000000000002" fill="url(#g35)"/>
<rect x="366.00" y="527.8" width="3.30" height="207.60000000000002" fill="url(#g38)"/>
<rect x="369.00" y="527.8" width="3.30" height="207.60000000000002" fill="url(#g39)"/>
<rect x="372.00" y="527.8" width="4.30" height="207.60000000000002" fill="url(#g33)"/>
<rect x="376.00" y="527.8" width="4.30" height="207.60000000000002" fill="url(#g40)"/>
<rect x="380.00" y="527.8" width="3.30" height="207.60000000000002" fill="url(#g33)"/>
<rect x="383.00" y="527.8" width="3.30" height="207.60000000000002" fill="url(#g38)"/>
<rect x="386.00" y="527.8" width="3.10" height="207.60000000000002" fill="url(#g41)"/>
<rect x="388.80" y="527.8" width="3.10" height="207.60000000000002" fill="url(#g33)"/>
<rect x="391.60" y="527.8" width="3.10" height="207.60000000000002" fill="url(#g34)"/>
<rect x="394.40" y="527.8" width="3.10" height="207.60000000000002" fill="url(#g33)"/>
<rect x="397.20" y="527.8" width="3.10" height="207.60000000000002" fill="url(#g41)"/>
<rect x="400.00" y="527.8" width="3.30" height="207.60000000000002" fill="url(#g42)"/>
<rect x="403.00" y="527.8" width="4.30" height="207.60000000000002" fill="url(#g43)"/>
<rect x="407.00" y="527.8" width="3.30" height="207.60000000000002" fill="url(#g44)"/>
<rect x="410.00" y="527.8" width="3.30" height="207.60000000000002" fill="url(#g44)"/>
<rect x="413.00" y="527.8" width="3.30" height="207.60000000000002" fill="url(#g44)"/>
<rect x="416.00" y="527.8" width="3.30" height="207.60000000000002" fill="url(#g45)"/>
<rect x="419.00" y="527.8" width="3.30" height="207.60000000000002" fill="url(#g45)"/>
<rect x="422.00" y="527.8" width="3.30" height="207.60000000000002" fill="url(#g44)"/>
<rect x="425.00" y="527.8" width="3.30" height="207.60000000000002" fill="url(#g44)"/>
<rect x="428.00" y="527.8" width="3.30" height="207.60000000000002" fill="url(#g45)"/>
<rect x="431.00" y="527.8" width="3.30" height="207.60000000000002" fill="url(#g45)"/>
<rect x="434.00" y="527.8" width="3.30" height="207.60000000000002" fill="url(#g45)"/>
<rect x="437.00" y="527.8" width="3.30" height="207.60000000000002" fill="url(#g46)"/>
<rect x="440.00" y="527.8" width="3.30" height="207.60000000000002" fill="url(#g47)"/>
<rect x="443.00" y="527.8" width="3.30" height="207.60000000000002" fill="url(#g47)"/>
<rect x="446.00" y="527.8" width="3.30" height="207.60000000000002" fill="url(#g48)"/>
<rect x="449.00" y="527.8" width="3.05" height="207.60000000000002" fill="url(#g49)"/>
<rect x="451.75" y="527.8" width="3.05" height="207.60000000000002" fill="url(#g50)"/>
<rect x="454.50" y="527.8" width="3.05" height="207.60000000000002" fill="url(#g50)"/>
<rect x="457.25" y="527.8" width="3.05" height="207.60000000000002" fill="url(#g49)"/>
<rect x="460.00" y="527.8" width="3.05" height="207.60000000000002" fill="url(#g51)"/>
<rect x="462.75" y="527.8" width="3.05" height="207.60000000000002" fill="url(#g51)"/>
<rect x="465.50" y="527.8" width="3.05" height="207.60000000000002" fill="url(#g52)"/>
<rect x="468.25" y="527.8" width="3.05" height="207.60000000000002" fill="url(#g52)"/>
<rect x="471.00" y="527.8" width="3.05" height="207.60000000000002" fill="url(#g49)"/>
<rect x="473.75" y="527.8" width="3.05" height="207.60000000000002" fill="url(#g53)"/>
<rect x="476.50" y="527.8" width="3.05" height="207.60000000000002" fill="url(#g53)"/>
<rect x="479.25" y="527.8" width="3.05" height="207.60000000000002" fill="url(#g49)"/>
<rect x="482.00" y="527.8" width="3.30" height="207.60000000000002" fill="url(#g54)"/>
<rect x="485.00" y="527.8" width="3.30" height="207.60000000000002" fill="url(#g54)"/>
<rect x="488.00" y="527.8" width="3.30" height="207.60000000000002" fill="url(#g54)"/>
<rect x="491.00" y="527.8" width="3.05" height="207.60000000000002" fill="url(#g55)"/>
<rect x="493.75" y="527.8" width="3.05" height="207.60000000000002" fill="url(#g56)"/>
<rect x="496.50" y="527.8" width="3.05" height="207.60000000000002" fill="url(#g56)"/>
<rect x="499.25" y="527.8" width="3.05" height="207.60000000000002" fill="url(#g55)"/>
<rect x="502.00" y="527.8" width="3.05" height="207.60000000000002" fill="url(#g54)"/>
<rect x="504.75" y="527.8" width="3.05" height="207.60000000000002" fill="url(#g54)"/>
<rect x="507.50" y="527.8" width="3.05" height="207.60000000000002" fill="url(#g54)"/>
<rect x="510.25" y="527.8" width="3.05" height="207.60000000000002" fill="url(#g54)"/>
<rect x="513.00" y="527.8" width="2.80" height="207.60000000000002" fill="url(#g57)"/>
<rect x="515.50" y="527.8" width="2.80" height="207.60000000000002" fill="url(#g57)"/>
<rect x="518.00" y="527.8" width="3.30" height="207.60000000000002" fill="url(#g51)"/>
<rect x="521.00" y="527.8" width="3.30" height="207.60000000000002" fill="url(#g48)"/>
<rect x="524.00" y="527.8" width="3.30" height="207.60000000000002" fill="url(#g51)"/>
<rect x="527.00" y="527.8" width="3.47" height="207.60000000000002" fill="url(#g57)"/>
<rect x="530.17" y="527.8" width="3.47" height="207.60000000000002" fill="url(#g58)"/>
<rect x="533.33" y="527.8" width="3.47" height="207.60000000000002" fill="url(#g57)"/>
<rect x="536.50" y="527.8" width="2.97" height="207.60000000000002" fill="url(#g59)"/>
<rect x="539.17" y="527.8" width="2.97" height="207.60000000000002" fill="url(#g48)"/>
<rect x="541.83" y="527.8" width="2.97" height="207.60000000000002" fill="url(#g48)"/>
<rect x="268" y="527.8" width="6" height="3" fill="#f01800"/>
<rect x="268" y="530.8" width="6" height="2.6" fill="#ff5000"/>
<rect x="290" y="527.8" width="5" height="3" fill="#f01800"/>
<rect x="290" y="530.8" width="5" height="2.6" fill="#ff5000"/>
<rect x="301" y="527.8" width="7" height="3" fill="#f01800"/>
<rect x="301" y="530.8" width="7" height="2.6" fill="#ff5000"/>
<rect x="314" y="527.8" width="5" height="3" fill="#f01800"/>
<rect x="314" y="530.8" width="5" height="2.6" fill="#ff5000"/>
<rect x="324" y="527.8" width="4" height="3" fill="#f01800"/>
<rect x="324" y="530.8" width="4" height="2.6" fill="#ff5000"/>
<rect x="335" y="527.8" width="3" height="3" fill="#f01800"/>
<rect x="335" y="530.8" width="3" height="2.6" fill="#ff5000"/>
<rect x="343" y="527.8" width="7" height="3" fill="#f01800"/>
<rect x="343" y="530.8" width="7" height="2.6" fill="#ff5000"/>
<rect x="356" y="527.8" width="6" height="3" fill="#f01800"/>
<rect x="356" y="530.8" width="6" height="2.6" fill="#ff5000"/>
<rect x="367" y="527.8" width="4" height="3" fill="#f01800"/>
<rect x="367" y="530.8" width="4" height="2.6" fill="#ff5000"/>
<rect x="372" y="527.8" width="8" height="3" fill="#f01800"/>
<rect x="372" y="530.8" width="8" height="2.6" fill="#ff5000"/>
<rect x="394" y="527.8" width="6" height="3" fill="#f01800"/>
<rect x="394" y="530.8" width="6" height="2.6" fill="#ff5000"/>
<rect x="440" y="527.8" width="6" height="3" fill="#f01800"/>
<rect x="440" y="530.8" width="6" height="2.6" fill="#ff5000"/>
<rect x="462" y="527.8" width="6" height="3" fill="#f01800"/>
<rect x="462" y="530.8" width="6" height="2.6" fill="#ff5000"/>
<polygon fill="#0000cc" points="133.0,736.0 133.5,690.0 134.0,660.0 138.0,631.0 144.0,614.0 150.0,603.0 154.0,595.0 160.0,593.5 165.0,594.0 171.0,598.0 177.0,603.0 184.0,610.0 192.0,613.0 200.0,613.5 202.0,640.0 216.0,645.0 218.0,668.0 240.0,668.0 242.0,736.0"/>
<polygon fill="#0000cc" points="321.5,736.0 321.5,660.0 322.0,640.0 324.0,628.0 328.0,620.0 332.0,616.0 338.0,612.0 342.0,610.0 348.0,610.0 352.0,611.0 356.0,615.0 360.0,620.0 364.0,626.0 368.0,629.0 372.0,627.0 376.0,630.0 380.0,627.0 384.0,630.0 388.0,628.0 392.0,633.0 396.0,636.0 400.0,635.0 404.0,632.0 406.0,630.0 407.0,736.0"/>
<rect x="101.5" y="673" width="443" height="11" fill="#0324f4"/>
<rect x="101.5" y="676" width="31" height="7" fill="#0640ff"/>
<rect x="243" y="676" width="302" height="6" fill="#0740ff"/>
<rect x="105" y="676" width="6" height="4" fill="#20a8ff"/>
<rect x="105" y="680" width="6" height="3.5" fill="#20a8ff" opacity="0.55"/>
<rect x="323" y="676" width="3" height="4" fill="#28c0ff"/>
<rect x="323" y="680" width="3" height="3.5" fill="#28c0ff" opacity="0.55"/>
<rect x="334" y="676" width="3" height="4" fill="#30d0ff"/>
<rect x="334" y="680" width="3" height="3.5" fill="#30d0ff" opacity="0.55"/>
<rect x="363" y="676" width="9" height="4" fill="#28c8ff"/>
<rect x="363" y="680" width="9" height="3.5" fill="#28c8ff" opacity="0.55"/>
<rect x="374" y="676" width="10" height="4" fill="#30d8ff"/>
<rect x="374" y="680" width="10" height="3.5" fill="#30d8ff" opacity="0.55"/>
<rect x="392" y="676" width="8" height="4" fill="#40e8e8"/>
<rect x="392" y="680" width="8" height="3.5" fill="#40e8e8" opacity="0.55"/>
<rect x="268" y="676" width="5" height="4" fill="#30d0ff"/>
<rect x="268" y="680" width="5" height="3.5" fill="#30d0ff" opacity="0.55"/>
<rect x="290" y="676" width="4" height="4" fill="#30d0ff"/>
<rect x="290" y="680" width="4" height="3.5" fill="#30d0ff" opacity="0.55"/>
<rect x="301" y="676" width="6" height="4" fill="#40e8f0"/>
<rect x="301" y="680" width="6" height="3.5" fill="#40e8f0" opacity="0.55"/>
<rect x="313" y="676" width="5" height="4" fill="#30d0ff"/>
<rect x="313" y="680" width="5" height="3.5" fill="#30d0ff" opacity="0.55"/>
<rect x="328" y="676" width="3" height="4" fill="#30d0ff"/>
<rect x="328" y="680" width="3" height="3.5" fill="#30d0ff" opacity="0.55"/>
<rect x="442" y="676" width="4" height="4" fill="#70ffa0"/>
<rect x="442" y="680" width="4" height="3.5" fill="#70ffa0" opacity="0.55"/>
<rect x="463" y="676" width="5" height="4" fill="#40e8ff"/>
<rect x="463" y="680" width="5" height="3.5" fill="#40e8ff" opacity="0.55"/>
<rect x="478" y="676" width="3" height="4" fill="#20b0ff"/>
<rect x="478" y="680" width="3" height="3.5" fill="#20b0ff" opacity="0.55"/>
<rect x="495" y="676" width="15" height="4" fill="#1080ff"/>
<rect x="495" y="680" width="15" height="3.5" fill="#1080ff" opacity="0.55"/>
<rect x="519" y="676" width="5" height="4" fill="#1080ff"/>
<rect x="519" y="680" width="5" height="3.5" fill="#1080ff" opacity="0.55"/>
<rect x="101.5" y="691" width="31" height="28" fill="#00a0ff"/>
<rect x="101.5" y="694" width="30" height="21" fill="#20e8e0"/>
<rect x="101.5" y="698" width="26" height="13" fill="#80ff80"/>
<rect x="101.5" y="701" width="8" height="8" fill="#c0ff40"/>
<rect x="313" y="699" width="9" height="26" fill="#00b0ff"/>
<rect x="315" y="703" width="7" height="18" fill="#60ffa0"/>
<rect x="203" y="625.0" width="12" height="30.0" fill="#0090ff"/>
<rect x="203" y="628.8" width="12" height="22.5" fill="#20e0e0"/>
<rect x="203" y="633.2" width="12" height="13.5" fill="#a0ff60"/>
<rect x="203" y="636.2" width="12" height="7.5" fill="#ffe000"/>
<rect x="218" y="654.0" width="21" height="26.0" fill="#0090ff"/>
<rect x="218" y="656.9" width="21" height="20.3" fill="#20e0e0"/>
<rect x="218" y="660.5" width="21" height="13.0" fill="#90ff70"/>
<rect x="218" y="663.8" width="21" height="6.5" fill="#e0ff20"/>
<polygon fill="#30d0ff" points="238.0,656.0 240.0,656.0 243.5,690.0 241.5,690.0"/>
<polyline fill="none" stroke="#20b0ff" stroke-width="2.2" stroke-linejoin="round" stroke-linecap="butt" points="132.6,736.0 132.8,690.0 134.0,660.0" />
<polyline fill="none" stroke="#10c8f0" stroke-width="3.2" stroke-linejoin="round" stroke-linecap="butt" points="133.4,675.0 134.0,660.0" />
<polyline fill="none" stroke="#40e8c0" stroke-width="4.5" stroke-linejoin="round" stroke-linecap="butt" points="134.0,660.0 138.0,631.0" />
<polyline fill="none" stroke="#a0ff60" stroke-width="2.4" stroke-linejoin="round" stroke-linecap="butt" points="134.0,660.0 138.0,631.0" />
<polyline fill="none" stroke="#30e0d0" stroke-width="7.5" stroke-linejoin="round" stroke-linecap="butt" points="138.0,631.0 144.0,614.0 150.0,603.0 154.0,595.0 160.0,593.5 165.0,594.0 171.0,598.0 177.0,603.0 184.0,610.0 192.0,613.0 200.0,613.5" />
<polyline fill="none" stroke="#b0ff50" stroke-width="6" stroke-linejoin="round" stroke-linecap="butt" points="138.0,631.0 144.0,614.0 150.0,603.0 154.0,595.0 160.0,593.5 165.0,594.0 171.0,598.0 177.0,603.0 184.0,610.0 192.0,613.0 200.0,613.5" />
<polyline fill="none" stroke="#ffe000" stroke-width="4.8" stroke-linejoin="round" stroke-linecap="butt" points="138.0,631.0 144.0,614.0 150.0,603.0 154.0,595.0 160.0,593.5 165.0,594.0 171.0,598.0 177.0,603.0 184.0,610.0 192.0,613.0 200.0,613.5" />
<polyline fill="none" stroke="#ff7000" stroke-width="3.2" stroke-linejoin="round" stroke-linecap="butt" points="138.0,631.0 144.0,614.0 150.0,603.0 154.0,595.0 160.0,593.5 165.0,594.0 171.0,598.0 177.0,603.0 184.0,610.0 192.0,613.0 200.0,613.5" />
<polyline fill="none" stroke="#20b0ff" stroke-width="2.2" stroke-linejoin="round" stroke-linecap="butt" points="241.5,676.0 242.5,736.0" />
<polyline fill="none" stroke="#1890ff" stroke-width="2.2" stroke-linejoin="round" stroke-linecap="butt" points="321.5,736.0 321.5,650.0" />
<polyline fill="none" stroke="#10c8f0" stroke-width="13" stroke-linejoin="round" stroke-linecap="butt" points="322.0,640.0 324.0,628.0 328.0,620.0 332.0,616.0 338.0,612.0 342.0,610.0 348.0,610.0 352.0,611.0 356.0,615.0 360.0,620.0 364.0,626.0 368.0,629.0 372.0,627.0 376.0,630.0 380.0,627.0 384.0,630.0 388.0,628.0 392.0,633.0 396.0,636.0 400.0,635.0 404.0,632.0 406.0,630.0" />
<polyline fill="none" stroke="#70ff90" stroke-width="9" stroke-linejoin="round" stroke-linecap="butt" points="322.0,640.0 324.0,628.0 328.0,620.0 332.0,616.0 338.0,612.0 342.0,610.0 348.0,610.0 352.0,611.0 356.0,615.0 360.0,620.0 364.0,626.0 368.0,629.0 372.0,627.0 376.0,630.0 380.0,627.0 384.0,630.0 388.0,628.0 392.0,633.0 396.0,636.0 400.0,635.0 404.0,632.0 406.0,630.0" />
<polyline fill="none" stroke="#ffe800" stroke-width="5.5" stroke-linejoin="round" stroke-linecap="butt" points="322.0,640.0 324.0,628.0 328.0,620.0 332.0,616.0 338.0,612.0 342.0,610.0 348.0,610.0 352.0,611.0 356.0,615.0 360.0,620.0 364.0,626.0 368.0,629.0 372.0,627.0 376.0,630.0 380.0,627.0 384.0,630.0 388.0,628.0 392.0,633.0 396.0,636.0 400.0,635.0 404.0,632.0 406.0,630.0" />
<polyline fill="none" stroke="#ff8000" stroke-width="3" stroke-linejoin="round" stroke-linecap="butt" points="328.0,620.0 332.0,616.0 338.0,612.0 342.0,610.0 348.0,610.0 352.0,611.0 356.0,615.0" />
<polyline fill="none" stroke="#20b0ff" stroke-width="2.2" stroke-linejoin="round" stroke-linecap="butt" points="407.3,614.0 407.3,736.0" />
<polyline fill="none" stroke="#1890ff" stroke-width="2.2" stroke-linejoin="round" stroke-linecap="butt" points="531.5,630.0 531.5,736.0" />
<rect x="536" y="612" width="9" height="26" fill="#0070ff"/>
<rect x="540" y="617" width="5" height="14" fill="#30e0d0"/>
<polyline fill="none" stroke="#0420f0" stroke-width="5" stroke-linejoin="round" stroke-linecap="butt" points="327.0,733.0 331.0,712.0 338.0,700.0 346.0,697.0 354.0,702.0 360.0,715.0 364.0,733.0" opacity="0.5"/>
<rect x="517" y="710" width="4" height="26" fill="#1080ff"/><rect x="525" y="705" width="4" height="31" fill="#20a0ff"/>
</g>
<path d="M101.5 43.50h5M544.5 43.50h-5" stroke="#000" stroke-width="0.7"/>
<text x="96.5" y="47.10" text-anchor="end" font-size="15">0</text>
<path d="M101.5 78.83h5M544.5 78.83h-5" stroke="#000" stroke-width="0.7"/>
<text x="96.5" y="82.42" text-anchor="end" font-size="15">50</text>
<path d="M101.5 114.15h5M544.5 114.15h-5" stroke="#000" stroke-width="0.7"/>
<text x="96.5" y="117.75" text-anchor="end" font-size="15">100</text>
<path d="M101.5 149.48h5M544.5 149.48h-5" stroke="#000" stroke-width="0.7"/>
<text x="96.5" y="153.08" text-anchor="end" font-size="15">150</text>
<path d="M101.5 184.80h5M544.5 184.80h-5" stroke="#000" stroke-width="0.7"/>
<text x="96.5" y="188.40" text-anchor="end" font-size="15">200</text>
<path d="M101.5 220.12h5M544.5 220.12h-5" stroke="#000" stroke-width="0.7"/>
<text x="96.5" y="223.72" text-anchor="end" font-size="15">250</text>
<path d="M101.5 255.45h5M544.5 255.45h-5" stroke="#000" stroke-width="0.7"/>
<text x="96.5" y="259.05" text-anchor="end" font-size="15">300</text>
<path d="M130.4 43.5v5M130.4 258.3v-5" stroke="#000" stroke-width="0.7"/>
<path d="M249.4 43.5v5M249.4 258.3v-5" stroke="#000" stroke-width="0.7"/>
<path d="M368.4 43.5v5M368.4 258.3v-5" stroke="#000" stroke-width="0.7"/>
<path d="M487.4 43.5v5M487.4 258.3v-5" stroke="#000" stroke-width="0.7"/>
<rect x="101.5" y="43.5" width="443.0" height="214.8" fill="none" stroke="#000" stroke-width="1.25"/>
<path d="M101.5 281.50h5M544.5 281.50h-5" stroke="#000" stroke-width="0.7"/>
<text x="96.5" y="285.10" text-anchor="end" font-size="15">0</text>
<path d="M101.5 316.82h5M544.5 316.82h-5" stroke="#000" stroke-width="0.7"/>
<text x="96.5" y="320.43" text-anchor="end" font-size="15">50</text>
<path d="M101.5 352.15h5M544.5 352.15h-5" stroke="#000" stroke-width="0.7"/>
<text x="96.5" y="355.75" text-anchor="end" font-size="15">100</text>
<path d="M101.5 387.48h5M544.5 387.48h-5" stroke="#000" stroke-width="0.7"/>
<text x="96.5" y="391.08" text-anchor="end" font-size="15">150</text>
<path d="M101.5 422.80h5M544.5 422.80h-5" stroke="#000" stroke-width="0.7"/>
<text x="96.5" y="426.40" text-anchor="end" font-size="15">200</text>
<path d="M101.5 458.12h5M544.5 458.12h-5" stroke="#000" stroke-width="0.7"/>
<text x="96.5" y="461.73" text-anchor="end" font-size="15">250</text>
<path d="M101.5 493.45h5M544.5 493.45h-5" stroke="#000" stroke-width="0.7"/>
<text x="96.5" y="497.05" text-anchor="end" font-size="15">300</text>
<path d="M130.4 281.5v5M130.4 497.3v-5" stroke="#000" stroke-width="0.7"/>
<path d="M249.4 281.5v5M249.4 497.3v-5" stroke="#000" stroke-width="0.7"/>
<path d="M368.4 281.5v5M368.4 497.3v-5" stroke="#000" stroke-width="0.7"/>
<path d="M487.4 281.5v5M487.4 497.3v-5" stroke="#000" stroke-width="0.7"/>
<rect x="101.5" y="281.5" width="443.0" height="215.8" fill="none" stroke="#000" stroke-width="1.25"/>
<path d="M101.5 520.60h5M544.5 520.60h-5" stroke="#000" stroke-width="0.7"/>
<text x="96.5" y="524.20" text-anchor="end" font-size="15">0</text>
<path d="M101.5 555.93h5M544.5 555.93h-5" stroke="#000" stroke-width="0.7"/>
<text x="96.5" y="559.53" text-anchor="end" font-size="15">50</text>
<path d="M101.5 591.25h5M544.5 591.25h-5" stroke="#000" stroke-width="0.7"/>
<text x="96.5" y="594.85" text-anchor="end" font-size="15">100</text>
<path d="M101.5 626.58h5M544.5 626.58h-5" stroke="#000" stroke-width="0.7"/>
<text x="96.5" y="630.18" text-anchor="end" font-size="15">150</text>
<path d="M101.5 661.90h5M544.5 661.90h-5" stroke="#000" stroke-width="0.7"/>
<text x="96.5" y="665.50" text-anchor="end" font-size="15">200</text>
<path d="M101.5 697.23h5M544.5 697.23h-5" stroke="#000" stroke-width="0.7"/>
<text x="96.5" y="700.83" text-anchor="end" font-size="15">250</text>
<path d="M101.5 732.55h5M544.5 732.55h-5" stroke="#000" stroke-width="0.7"/>
<text x="96.5" y="736.15" text-anchor="end" font-size="15">300</text>
<path d="M130.4 520.6v5M130.4 735.4v-5" stroke="#000" stroke-width="0.7"/>
<text x="129.8" y="751.6" text-anchor="middle" font-size="15" letter-spacing="-0.2">113.6</text>
<path d="M249.4 520.6v5M249.4 735.4v-5" stroke="#000" stroke-width="0.7"/>
<text x="248.8" y="751.6" text-anchor="middle" font-size="15" letter-spacing="-0.2">114.0</text>
<path d="M368.4 520.6v5M368.4 735.4v-5" stroke="#000" stroke-width="0.7"/>
<text x="367.79999999999995" y="751.6" text-anchor="middle" font-size="15" letter-spacing="-0.2">114.4</text>
<path d="M487.4 520.6v5M487.4 735.4v-5" stroke="#000" stroke-width="0.7"/>
<text x="486.79999999999995" y="751.6" text-anchor="middle" font-size="15" letter-spacing="-0.2">114.8</text>
<rect x="101.5" y="520.6" width="443.0" height="214.79999999999995" fill="none" stroke="#000" stroke-width="1.25"/>
<text x="33.8" y="17" font-size="15">ar29 os150bb</text>
<text x="323" y="37.2" text-anchor="middle" font-size="18">Ocean U (east)</text>
<text x="323" y="275.4" text-anchor="middle" font-size="18">Ocean V (north)</text>
<text x="323" y="514.2" text-anchor="middle" font-size="18">Signal Strength RSSI)</text>
<text transform="translate(58 151.2) rotate(-90)" text-anchor="middle" font-size="15">depth</text>
<text transform="translate(58 390.0) rotate(-90)" text-anchor="middle" font-size="15">depth</text>
<text transform="translate(58 628) rotate(-90)" text-anchor="middle" font-size="15">dep</text>
<text x="323" y="774" text-anchor="middle" font-size="15">dday</text>
<text x="334.4" y="804.6" text-anchor="middle" font-size="17.5" font-weight="bold">os150bb: last time</text>
<text x="338" y="825" text-anchor="middle" font-size="17.5" font-weight="bold">(dday = 114.993) 2018/04/25 23:50:03 UTC</text>
<rect x="571.9" y="72.80" width="7.800000000000068" height="19.80" fill="#e0200c"/>
<rect x="571.9" y="92.30" width="7.800000000000068" height="19.80" fill="#fd7d20"/>
<rect x="571.9" y="111.80" width="7.800000000000068" height="19.80" fill="#fec44e"/>
<rect x="571.9" y="131.30" width="7.800000000000068" height="19.80" fill="#fff3c4"/>
<rect x="571.9" y="150.80" width="7.800000000000068" height="19.80" fill="#d4edff"/>
<rect x="571.9" y="170.30" width="7.800000000000068" height="19.80" fill="#9accff"/>
<rect x="571.9" y="189.80" width="7.800000000000068" height="19.80" fill="#3d68f6"/>
<rect x="571.9" y="209.30" width="7.800000000000068" height="19.80" fill="#2804e4"/>
<path d="M571.9 72.8L575.8 65.2L579.7 72.8Z" fill="#7a0030"/>
<path d="M571.9 228.8L575.8 236.4L579.7 228.8Z" fill="#3a0a70"/>
<path d="M571.9 72.8L575.8 65.2L579.7 72.8V228.8L575.8 236.4L571.9 228.8Z" fill="none" stroke="#000" stroke-width="1.25" stroke-linejoin="miter"/>
<path d="M579.7 72.80h-4" stroke="#000" stroke-width="0.7"/>
<text x="585.3" y="77.20" font-size="15" letter-spacing="-0.25">0.4</text>
<path d="M579.7 92.30h-4" stroke="#000" stroke-width="0.7"/>
<text x="585.3" y="96.70" font-size="15" letter-spacing="-0.25">0.3</text>
<path d="M579.7 111.80h-4" stroke="#000" stroke-width="0.7"/>
<text x="585.3" y="116.20" font-size="15" letter-spacing="-0.25">0.2</text>
<path d="M579.7 131.30h-4" stroke="#000" stroke-width="0.7"/>
<text x="585.3" y="135.70" font-size="15" letter-spacing="-0.25">0.1</text>
<path d="M579.7 150.80h-4" stroke="#000" stroke-width="0.7"/>
<text x="585.3" y="155.20" font-size="15" letter-spacing="-0.25">0.0</text>
<path d="M579.7 170.30h-4" stroke="#000" stroke-width="0.7"/>
<text x="585.3" y="174.70" font-size="15" letter-spacing="-0.25">−0.1</text>
<path d="M579.7 189.80h-4" stroke="#000" stroke-width="0.7"/>
<text x="585.3" y="194.20" font-size="15" letter-spacing="-0.25">−0.2</text>
<path d="M579.7 209.30h-4" stroke="#000" stroke-width="0.7"/>
<text x="585.3" y="213.70" font-size="15" letter-spacing="-0.25">−0.3</text>
<path d="M579.7 228.80h-4" stroke="#000" stroke-width="0.7"/>
<text x="585.3" y="233.20" font-size="15" letter-spacing="-0.25">−0.4</text>
<text transform="translate(639.5 152.8) rotate(-90)" text-anchor="middle" font-size="15">m/s</text>
<rect x="571.9" y="311.40" width="7.800000000000068" height="19.80" fill="#e0200c"/>
<rect x="571.9" y="330.90" width="7.800000000000068" height="19.80" fill="#fd7d20"/>
<rect x="571.9" y="350.40" width="7.800000000000068" height="19.80" fill="#fec44e"/>
<rect x="571.9" y="369.90" width="7.800000000000068" height="19.80" fill="#fff3c4"/>
<rect x="571.9" y="389.40" width="7.800000000000068" height="19.80" fill="#d4edff"/>
<rect x="571.9" y="408.90" width="7.800000000000068" height="19.80" fill="#9accff"/>
<rect x="571.9" y="428.40" width="7.800000000000068" height="19.80" fill="#3d68f6"/>
<rect x="571.9" y="447.90" width="7.800000000000068" height="19.80" fill="#2804e4"/>
<path d="M571.9 311.4L575.8 303.79999999999995L579.7 311.4Z" fill="#7a0030"/>
<path d="M571.9 467.4L575.8 475.0L579.7 467.4Z" fill="#3a0a70"/>
<path d="M571.9 311.4L575.8 303.79999999999995L579.7 311.4V467.4L575.8 475.0L571.9 467.4Z" fill="none" stroke="#000" stroke-width="1.25" stroke-linejoin="miter"/>
<path d="M579.7 311.40h-4" stroke="#000" stroke-width="0.7"/>
<text x="585.3" y="315.80" font-size="15" letter-spacing="-0.25">0.4</text>
<path d="M579.7 330.90h-4" stroke="#000" stroke-width="0.7"/>
<text x="585.3" y="335.30" font-size="15" letter-spacing="-0.25">0.3</text>
<path d="M579.7 350.40h-4" stroke="#000" stroke-width="0.7"/>
<text x="585.3" y="354.80" font-size="15" letter-spacing="-0.25">0.2</text>
<path d="M579.7 369.90h-4" stroke="#000" stroke-width="0.7"/>
<text x="585.3" y="374.30" font-size="15" letter-spacing="-0.25">0.1</text>
<path d="M579.7 389.40h-4" stroke="#000" stroke-width="0.7"/>
<text x="585.3" y="393.80" font-size="15" letter-spacing="-0.25">0.0</text>
<path d="M579.7 408.90h-4" stroke="#000" stroke-width="0.7"/>
<text x="585.3" y="413.30" font-size="15" letter-spacing="-0.25">−0.1</text>
<path d="M579.7 428.40h-4" stroke="#000" stroke-width="0.7"/>
<text x="585.3" y="432.80" font-size="15" letter-spacing="-0.25">−0.2</text>
<path d="M579.7 447.90h-4" stroke="#000" stroke-width="0.7"/>
<text x="585.3" y="452.30" font-size="15" letter-spacing="-0.25">−0.3</text>
<path d="M579.7 467.40h-4" stroke="#000" stroke-width="0.7"/>
<text x="585.3" y="471.80" font-size="15" letter-spacing="-0.25">−0.4</text>
<text transform="translate(639.5 391.4) rotate(-90)" text-anchor="middle" font-size="15">m/s</text>
<defs><linearGradient id="jet" x1="0" y1="1" x2="0" y2="0"><stop offset="0" stop-color="#000080"/><stop offset="0.11" stop-color="#0000ff"/><stop offset="0.125" stop-color="#0000ff"/><stop offset="0.34" stop-color="#00b0ff"/><stop offset="0.375" stop-color="#00ffff"/><stop offset="0.5" stop-color="#80ff80"/><stop offset="0.625" stop-color="#ffff00"/><stop offset="0.66" stop-color="#ffd000"/><stop offset="0.875" stop-color="#ff0000"/><stop offset="0.89" stop-color="#ff0000"/><stop offset="1" stop-color="#800000"/></linearGradient></defs>
<rect x="571.9" y="530.3" width="9.5" height="195.10000000000002" fill="url(#jet)"/>
<path d="M571.9 530.3L576.65 521.0999999999999L581.4 530.3Z" fill="#800000"/>
<path d="M571.9 725.4L576.65 734.6L581.4 725.4Z" fill="#000080"/>
<path d="M571.9 530.3L576.65 521.0999999999999L581.4 530.3V725.4L576.65 734.6L571.9 725.4Z" fill="none" stroke="#000" stroke-width="1.25"/>
<path d="M581.4 549.3h-4" stroke="#000" stroke-width="0.7"/>
<text x="587.4" y="552.90" font-size="15" letter-spacing="-0.4">200</text>
<path d="M581.4 586.4h-4" stroke="#000" stroke-width="0.7"/>
<text x="587.4" y="590.00" font-size="15" letter-spacing="-0.4">160</text>
<path d="M581.4 623.5h-4" stroke="#000" stroke-width="0.7"/>
<text x="587.4" y="627.10" font-size="15" letter-spacing="-0.4">120</text>
<path d="M581.4 660.6h-4" stroke="#000" stroke-width="0.7"/>
<text x="587.4" y="664.20" font-size="15" letter-spacing="-0.4">80</text>
<path d="M581.4 697.7h-4" stroke="#000" stroke-width="0.7"/>
<text x="587.4" y="701.30" font-size="15" letter-spacing="-0.4">40</text>
<text transform="translate(630 628.5) rotate(-90)" text-anchor="middle" font-size="12.5">RSSI counts</text>
</svg></body></html>
